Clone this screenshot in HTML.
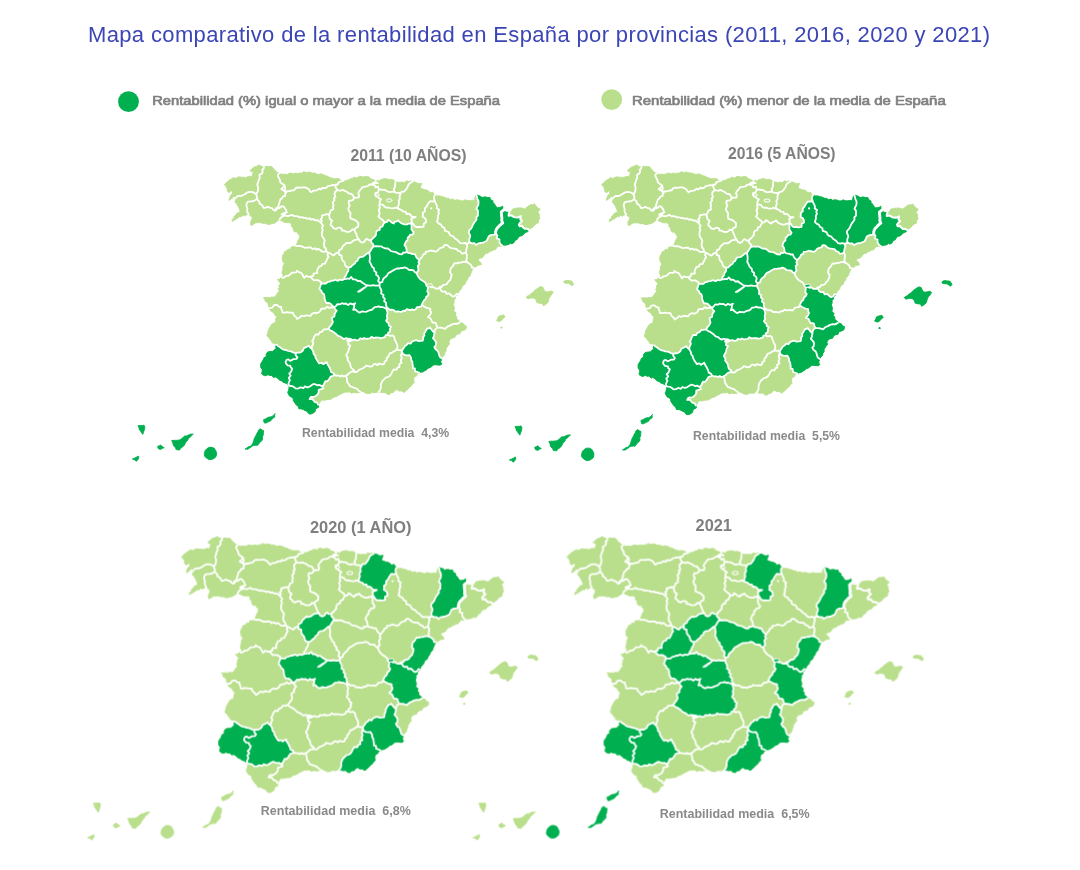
<!DOCTYPE html>
<html lang="es"><head><meta charset="utf-8"><title>Mapa comparativo de la rentabilidad en España por provincias</title><style>
html,body{margin:0;padding:0;background:#fff}
body{width:1080px;height:870px;position:relative;overflow:hidden}
svg{position:absolute;left:0;top:0;font-family:"Liberation Sans",sans-serif}
</style></head><body>
<svg width="1080" height="870" viewBox="0 0 1080 870">
<defs>
<path id="pC" d="M236.1 197.8L234.0 196.0L233.1 197.3L231.1 199.0L229.0 200.3L229.6 197.4L230.5 195.4L232.4 193.7L232.4 191.2L231.1 190.8L229.9 192.3L228.4 192.3L227.2 190.8L227.3 188.9L226.2 186.7L224.4 184.6L226.0 183.0L228.2 181.0L230.0 179.8L231.9 178.8L233.0 177.5L235.4 178.5L237.9 177.2L239.6 176.7L241.4 177.2L243.8 177.2L245.5 177.7L247.7 176.8L249.9 176.3L251.9 177.0L252.1 175.3L252.7 174.0L253.4 171.7L251.9 171.8L250.0 170.7L252.2 168.5L254.4 166.9L256.7 166.3L259.0 164.9L261.1 166.2L262.4 166.7L264.1 166.6L263.7 168.6L262.2 169.8L262.8 171.8L261.8 173.6L259.4 174.9L259.8 177.3L259.3 179.2L258.6 180.1L258.2 182.3L257.3 184.2L258.0 186.9L258.2 188.5L257.7 191.7L257.0 192.7L256.2 194.4L254.7 193.1L252.0 191.9L250.4 191.9L248.6 192.0L246.6 192.9L244.3 194.5L241.8 195.8L239.8 195.9L237.7 196.0Z"/>
<path id="pLU" d="M264.1 166.6L267.1 166.3L269.2 166.6L271.8 166.6L273.4 168.3L273.9 169.6L276.0 170.9L277.1 172.7L279.9 172.9L278.2 174.2L277.8 175.7L278.8 177.9L280.1 180.2L280.2 182.0L282.2 183.8L284.4 185.1L283.5 187.2L281.3 189.2L282.9 190.0L284.6 191.2L286.6 192.2L285.2 193.7L285.2 195.9L282.8 196.6L281.9 198.4L280.4 199.3L279.8 201.3L279.3 202.8L278.7 204.9L278.4 206.8L275.9 208.5L275.5 210.7L273.6 210.2L272.3 208.3L269.8 207.8L268.0 206.7L266.2 207.4L263.9 208.1L262.8 206.5L261.9 204.9L259.4 203.5L259.5 202.1L258.4 200.6L256.8 199.0L257.0 197.0L256.2 194.4L257.0 192.7L257.7 191.7L258.2 188.5L258.0 186.9L257.3 184.2L258.2 182.3L258.6 180.1L259.3 179.2L259.8 177.3L259.4 174.9L261.8 173.6L262.8 171.8L262.2 169.8L263.7 168.6Z"/>
<path id="pPO" d="M236.1 197.8L237.7 196.0L239.8 195.9L241.8 195.8L244.3 194.5L246.6 192.9L248.6 192.0L250.4 191.9L252.0 191.9L254.7 193.1L256.2 194.4L257.0 197.0L256.8 199.0L254.9 200.4L252.5 201.4L250.2 201.4L247.6 201.9L246.6 203.8L246.4 204.9L246.8 207.0L247.3 209.0L247.1 210.7L247.6 212.5L248.8 214.5L246.7 214.6L245.0 216.1L242.9 215.0L241.8 216.7L239.7 216.5L237.6 218.3L235.9 219.2L233.7 220.4L232.1 221.5L232.2 219.2L233.9 218.7L234.1 216.3L235.9 215.0L237.0 213.0L240.0 212.2L239.7 209.8L238.6 207.2L237.7 205.6L236.4 203.4L234.7 201.8L235.9 199.9Z"/>
<path id="pOU" d="M256.8 199.0L258.4 200.6L259.5 202.1L259.4 203.5L261.9 204.9L262.8 206.5L263.9 208.1L266.2 207.4L268.0 206.7L269.8 207.8L272.3 208.3L273.6 210.2L275.5 210.7L277.1 208.9L278.0 207.8L279.8 208.0L281.4 206.3L283.3 206.3L284.5 207.8L285.8 209.5L286.8 212.3L285.1 213.2L284.0 215.9L282.1 216.8L280.5 218.0L279.5 219.7L277.6 220.9L276.5 221.7L274.3 223.2L271.8 223.7L269.6 224.4L267.5 224.3L264.8 223.2L263.5 223.7L261.7 222.9L259.4 222.6L257.8 222.8L255.8 222.7L254.6 223.5L252.6 224.9L250.9 225.4L250.5 221.8L251.4 220.6L252.1 218.4L252.5 216.9L250.6 216.0L248.8 214.5L247.6 212.5L247.1 210.7L247.3 209.0L246.8 207.0L246.4 204.9L246.6 203.8L247.6 201.9L250.2 201.4L252.5 201.4L254.9 200.4Z"/>
<path id="pO" d="M279.9 172.9L279.7 173.5L282.1 174.3L283.9 174.3L285.6 174.2L287.6 174.4L289.8 173.1L291.9 173.3L293.8 173.8L295.9 173.0L298.2 173.6L299.5 173.1L301.9 173.0L304.0 171.6L305.7 172.5L307.8 172.3L309.5 172.1L311.1 172.5L312.6 173.2L314.3 172.9L316.1 173.8L318.6 174.5L320.8 173.8L322.6 174.3L324.3 175.1L326.0 175.8L328.2 176.5L329.8 177.5L332.0 178.1L333.3 178.6L335.4 178.8L337.4 178.5L339.4 179.0L341.8 180.9L343.7 180.6L341.1 181.3L338.9 182.0L337.6 184.5L335.6 184.7L333.8 185.3L332.2 185.0L330.2 185.6L327.9 186.2L326.6 187.5L324.4 188.3L322.6 187.6L321.0 189.4L319.0 188.7L317.4 190.0L315.7 190.7L313.3 190.7L311.1 192.2L310.0 191.3L308.8 189.3L306.9 188.1L304.8 187.3L302.9 187.4L301.3 187.6L299.5 187.7L297.8 187.5L295.7 188.0L294.1 190.3L291.9 190.4L289.9 191.2L287.9 191.2L284.7 191.6L284.9 189.6L285.3 187.5L284.4 185.1L282.2 183.8L280.2 182.0L280.1 180.2L278.8 177.9L277.8 175.7L278.2 174.2Z"/>
<path id="pS" d="M343.7 180.6L346.0 180.7L348.5 179.8L350.2 178.9L352.3 178.4L353.9 177.1L356.3 177.9L357.8 177.4L359.4 176.2L361.8 176.5L363.3 177.1L365.1 176.6L367.3 176.4L369.3 177.1L370.6 178.8L373.2 179.5L374.1 180.2L375.8 181.2L374.6 183.2L372.5 184.8L373.8 183.6L375.7 182.8L377.9 183.1L375.9 183.2L373.3 182.5L371.7 184.3L369.7 184.5L367.8 186.2L365.3 186.7L362.7 187.1L361.7 188.2L360.0 190.3L358.7 192.0L358.3 193.3L359.2 195.3L358.8 197.4L356.3 197.6L354.1 197.9L353.1 195.6L351.5 193.9L349.0 193.5L347.7 192.4L345.8 191.2L344.5 190.9L342.5 189.8L341.1 190.7L338.5 190.3L336.9 189.5L335.6 187.2L335.6 184.7L337.6 184.5L338.9 182.0L341.1 181.3Z"/>
<path id="pBI" d="M375.8 181.2L377.6 180.2L379.0 181.2L380.9 179.6L382.8 179.1L385.4 178.5L387.3 179.0L389.0 179.6L391.5 179.4L393.0 179.7L394.5 180.8L395.4 182.1L395.2 184.8L395.0 186.9L393.7 189.5L394.6 191.7L391.6 191.8L389.4 192.2L387.5 191.5L385.1 189.9L382.9 189.9L381.0 189.3L378.8 190.0L378.1 186.5L375.7 187.4L374.6 185.2L372.5 184.8L374.6 183.2Z"/>
<path id="pSS" d="M395.4 182.1L397.8 182.0L399.8 182.4L402.0 182.1L404.5 182.5L406.9 180.8L409.4 181.6L411.1 180.8L412.5 181.7L410.5 182.7L408.7 184.2L407.8 186.5L406.7 188.5L405.2 190.3L404.0 191.6L401.7 191.7L400.8 193.3L399.0 192.9L397.8 192.8L395.6 192.6L394.6 191.7L393.7 189.5L395.0 186.9L395.2 184.8Z"/>
<path id="pVI" d="M378.8 190.0L381.0 189.3L382.9 189.9L385.1 189.9L387.5 191.5L389.4 192.2L391.6 191.8L394.6 191.7L395.6 192.6L397.8 192.8L399.0 192.9L400.8 193.3L399.5 196.0L399.9 198.7L398.6 200.7L399.1 203.7L398.2 206.0L397.9 208.5L395.9 207.5L394.3 208.2L391.7 208.4L390.4 208.2L388.2 207.5L386.3 207.6L384.5 206.8L383.4 205.1L381.3 204.5L379.6 203.8L379.6 201.7L381.1 199.3L379.4 198.6L378.0 197.0L376.2 196.4L375.3 195.0L375.3 193.0L378.0 192.3Z"/>
<path id="pNA" d="M412.5 181.7L414.2 182.0L416.0 182.3L417.8 183.5L419.3 183.7L421.9 183.2L420.9 185.5L420.2 188.0L422.2 188.8L424.6 189.7L426.5 189.9L428.9 191.3L430.3 192.7L432.7 192.0L433.5 194.1L435.4 194.6L434.2 196.3L434.0 198.7L434.6 200.4L432.8 201.6L430.2 201.2L428.7 202.8L427.4 205.0L426.6 206.6L424.8 208.4L424.9 211.2L422.7 212.9L423.0 214.5L422.6 216.8L424.9 218.0L426.0 220.0L426.2 222.2L423.8 223.5L423.7 226.6L421.2 227.1L418.8 226.8L416.1 227.0L414.2 225.7L413.1 223.6L410.6 223.3L412.0 221.9L411.3 218.8L412.9 218.1L415.7 217.0L413.2 216.8L411.6 216.4L410.3 214.6L408.5 213.6L406.5 214.0L405.6 211.7L402.8 211.5L401.8 210.1L399.8 209.3L397.9 208.5L398.2 206.0L399.1 203.7L398.6 200.7L399.9 198.7L399.5 196.0L400.8 193.3L401.7 191.7L404.0 191.6L405.2 190.3L406.7 188.5L407.8 186.5L408.7 184.2L410.5 182.7Z"/>
<path id="pLO" d="M379.6 203.8L381.3 204.5L383.4 205.1L384.5 206.8L386.3 207.6L388.2 207.5L390.4 208.2L391.7 208.4L394.3 208.2L395.9 207.5L397.9 208.5L399.8 209.3L401.8 210.1L402.8 211.5L405.6 211.7L406.5 214.0L408.5 213.6L410.3 214.6L411.6 216.4L413.2 216.8L415.7 217.0L412.9 218.1L411.3 218.8L412.0 221.9L410.6 223.3L408.2 223.7L407.0 224.4L404.5 224.3L403.2 224.0L401.1 223.1L399.8 222.1L398.2 220.3L396.6 221.4L394.5 221.9L393.7 223.5L391.8 222.7L389.9 220.9L388.1 219.9L387.1 221.9L384.6 222.5L383.3 220.5L381.8 219.5L380.5 218.4L378.4 216.5L379.6 213.6L379.4 211.9L378.7 209.9L380.0 208.0L379.3 206.0Z"/>
<path id="pLE" d="M284.4 185.1L285.3 187.5L284.9 189.6L284.7 191.6L287.9 191.2L289.9 191.2L291.9 190.4L294.1 190.3L295.7 188.0L297.8 187.5L299.5 187.7L301.3 187.6L302.9 187.4L304.8 187.3L306.9 188.1L308.8 189.3L310.0 191.3L311.1 192.2L313.3 190.7L315.7 190.7L317.4 190.0L319.0 188.7L321.0 189.4L322.6 187.6L324.4 188.3L326.6 187.5L327.9 186.2L330.2 185.6L332.2 185.0L333.8 185.3L335.6 184.7L335.6 187.2L336.9 189.5L336.2 191.3L334.8 192.1L334.6 194.5L335.5 196.9L333.9 198.3L334.6 200.1L332.7 202.8L333.5 204.9L332.9 206.9L333.4 209.2L330.7 210.5L330.1 212.8L328.6 214.6L326.7 214.1L324.4 214.8L322.1 215.3L322.1 217.8L320.5 219.1L321.8 220.8L320.7 222.6L319.0 221.2L317.2 220.1L315.4 220.4L313.6 219.2L311.1 219.5L309.7 218.3L307.3 218.8L305.6 217.8L303.7 217.9L301.8 217.1L299.5 217.4L298.1 216.4L296.1 216.1L293.8 216.1L291.8 214.7L290.3 215.4L288.0 216.1L285.6 215.7L283.5 215.2L281.6 214.5L282.9 213.6L284.7 212.9L286.8 212.3L285.8 209.5L284.5 207.8L283.3 206.3L281.4 206.3L279.8 208.0L278.0 207.8L277.1 208.9L275.5 210.7L275.9 208.5L278.4 206.8L278.7 204.9L279.3 202.8L279.8 201.3L280.4 199.3L281.9 198.4L282.8 196.6L285.2 195.9L285.2 193.7L286.6 192.2L284.6 191.2L282.9 190.0L281.3 189.2L283.5 187.2Z"/>
<path id="pP" d="M336.9 189.5L338.5 190.3L341.1 190.7L342.5 189.8L344.5 190.9L345.8 191.2L347.7 192.4L349.0 193.5L351.5 193.9L353.1 195.6L354.1 197.9L353.1 199.7L351.4 200.6L349.0 200.6L348.6 203.4L349.8 205.3L348.9 207.0L348.2 209.0L349.3 211.7L350.6 213.1L350.2 216.0L350.5 218.4L353.3 219.4L355.3 220.2L357.2 221.9L358.4 223.1L358.3 225.1L358.0 226.9L355.6 227.9L354.5 229.8L352.3 229.4L351.0 230.8L349.2 231.8L347.8 231.8L345.7 231.6L343.9 230.4L341.7 230.5L341.5 228.3L339.2 227.5L337.1 228.1L336.0 229.0L333.5 228.2L332.6 226.6L330.7 225.3L331.0 222.5L332.2 220.7L330.2 219.3L329.3 217.5L329.5 216.0L328.6 214.6L330.1 212.8L330.7 210.5L333.4 209.2L332.9 206.9L333.5 204.9L332.7 202.8L334.6 200.1L333.9 198.3L335.5 196.9L334.6 194.5L334.8 192.1L336.2 191.3Z"/>
<path id="pBU" d="M354.1 197.9L356.3 197.6L358.8 197.4L359.2 195.3L358.3 193.3L358.7 192.0L360.0 190.3L361.7 188.2L362.7 187.1L365.3 186.7L367.8 186.2L369.7 184.5L371.7 184.3L373.3 182.5L375.9 183.2L377.9 183.1L375.7 182.8L373.8 183.6L372.5 184.8L374.6 185.2L375.7 187.4L378.1 186.5L378.8 190.0L378.0 192.3L375.3 193.0L375.3 195.0L376.2 196.4L378.0 197.0L379.4 198.6L381.1 199.3L379.6 201.7L379.6 203.8L379.3 206.0L380.0 208.0L378.7 209.9L379.4 211.9L379.6 213.6L378.4 216.5L380.5 218.4L381.8 219.5L383.3 220.5L384.6 222.5L383.1 224.5L382.5 226.4L380.0 227.3L379.7 229.8L377.7 230.4L376.3 231.7L375.9 235.1L374.4 236.8L373.0 238.2L371.3 240.0L368.9 240.3L366.6 238.8L365.2 240.2L364.5 241.6L362.2 242.7L360.3 241.8L359.0 239.5L357.9 238.0L357.0 236.1L356.2 233.7L355.3 232.1L354.5 229.8L355.6 227.9L358.0 226.9L358.3 225.1L358.4 223.1L357.2 221.9L355.3 220.2L353.3 219.4L350.5 218.4L350.2 216.0L350.6 213.1L349.3 211.7L348.2 209.0L348.9 207.0L349.8 205.3L348.6 203.4L349.0 200.6L351.4 200.6L353.1 199.7Z"/>
<path id="pZA" d="M286.8 212.3L284.7 212.9L282.9 213.6L281.6 214.5L283.5 215.2L285.6 215.7L288.0 216.1L290.3 215.4L291.8 214.7L293.8 216.1L296.1 216.1L298.1 216.4L299.5 217.4L301.8 217.1L303.7 217.9L305.6 217.8L307.3 218.8L309.7 218.3L311.1 219.5L313.6 219.2L315.4 220.4L317.2 220.1L319.0 221.2L320.7 222.6L322.5 224.8L323.1 225.8L321.9 227.5L322.8 230.0L321.9 231.8L322.0 233.3L321.9 235.3L322.8 237.4L323.9 238.6L324.7 240.5L324.1 242.7L324.1 245.0L324.3 247.0L325.8 248.5L326.4 251.1L328.1 252.6L326.7 251.6L324.6 251.7L322.3 251.7L320.4 250.2L318.6 248.9L316.7 249.7L315.1 248.3L312.5 249.2L311.1 247.5L308.7 247.4L306.4 247.7L304.7 247.8L302.3 246.6L300.3 245.8L298.1 246.0L295.8 245.8L296.9 243.6L297.6 241.6L298.3 239.9L299.2 238.2L299.8 237.0L299.4 235.1L298.0 233.9L297.1 231.8L294.7 232.0L293.4 230.4L293.2 228.0L291.4 226.2L291.5 223.7L289.1 222.6L286.6 222.7L284.7 222.4L282.1 221.1L280.8 220.5L279.5 219.7L280.5 218.0L282.1 216.8L284.0 215.9L285.1 213.2Z"/>
<path id="pVA" d="M320.7 222.6L321.8 220.8L320.5 219.1L322.1 217.8L322.1 215.3L324.4 214.8L326.7 214.1L328.6 214.6L329.5 216.0L329.3 217.5L330.2 219.3L332.2 220.7L331.0 222.5L330.7 225.3L332.6 226.6L333.5 228.2L336.0 229.0L337.1 228.1L339.2 227.5L341.5 228.3L341.7 230.5L343.9 230.4L345.7 231.6L347.8 231.8L349.2 231.8L351.0 230.8L352.3 229.4L354.5 229.8L355.3 232.1L356.2 233.7L357.0 236.1L357.9 238.0L359.0 239.5L356.7 239.6L354.4 240.1L353.2 240.8L350.9 242.7L349.3 243.0L346.6 242.8L345.2 244.1L344.2 245.0L342.6 246.5L341.7 248.9L339.1 250.1L338.9 252.3L336.1 253.2L333.7 255.4L332.2 254.7L330.2 253.4L328.1 252.6L326.4 251.1L325.8 248.5L324.3 247.0L324.1 245.0L324.1 242.7L324.7 240.5L323.9 238.6L322.8 237.4L321.9 235.3L322.0 233.3L321.9 231.8L322.8 230.0L321.9 227.5L323.1 225.8L322.5 224.8Z"/>
<path id="pSA" d="M295.8 245.8L298.1 246.0L300.3 245.8L302.3 246.6L304.7 247.8L306.4 247.7L308.7 247.4L311.1 247.5L312.5 249.2L315.1 248.3L316.7 249.7L318.6 248.9L320.4 250.2L322.3 251.7L324.6 251.7L326.7 251.6L328.1 252.6L327.4 254.9L328.5 257.0L327.4 258.4L326.5 260.8L325.8 261.6L325.0 263.6L322.4 263.8L321.3 266.2L319.1 266.5L318.0 268.4L317.1 270.5L317.2 273.2L313.7 273.4L313.1 276.0L310.6 276.6L308.5 276.8L306.2 275.9L304.4 278.0L302.6 275.0L301.3 272.9L298.8 272.1L297.0 270.6L296.1 272.4L293.5 272.6L291.9 272.6L290.3 274.4L288.4 275.8L286.0 275.9L284.6 277.3L282.5 277.8L283.2 275.4L282.0 272.7L282.4 270.3L282.9 269.1L282.9 266.7L283.7 264.8L284.5 263.9L282.9 261.6L282.3 259.4L282.3 256.7L282.9 255.0L284.0 253.4L284.7 251.4L286.7 251.1L288.0 249.0L290.1 249.4L291.4 246.8L293.9 246.7Z"/>
<path id="pAV" d="M328.1 252.6L330.2 253.4L332.2 254.7L333.7 255.4L336.1 253.2L338.9 252.3L339.1 254.8L341.5 255.4L341.7 257.8L342.3 260.1L344.0 261.7L344.7 262.9L345.0 264.9L346.1 266.5L348.2 267.6L348.6 269.6L348.1 271.2L346.8 273.0L346.2 275.1L344.9 276.7L344.1 279.1L342.1 280.1L339.9 279.6L338.0 280.8L335.2 279.7L333.3 280.7L331.4 280.7L329.6 281.6L327.7 281.8L325.8 283.5L323.5 283.5L321.2 283.5L321.0 281.9L319.4 281.1L317.9 280.1L316.0 280.1L314.0 280.3L311.8 278.3L310.6 276.6L313.1 276.0L313.7 273.4L317.2 273.2L317.1 270.5L318.0 268.4L319.1 266.5L321.3 266.2L322.4 263.8L325.0 263.6L325.8 261.6L326.5 260.8L327.4 258.4L328.5 257.0L327.4 254.9Z"/>
<path id="pSG" d="M338.9 252.3L339.1 250.1L341.7 248.9L342.6 246.5L344.2 245.0L345.2 244.1L346.6 242.8L349.3 243.0L350.9 242.7L353.2 240.8L354.4 240.1L356.7 239.6L359.0 239.5L360.3 241.8L362.2 242.7L364.5 241.6L365.2 240.2L366.6 238.8L368.9 240.3L371.3 240.0L371.2 242.3L373.3 244.3L373.3 246.7L371.7 248.6L370.8 250.4L369.2 252.5L367.6 253.0L365.7 254.6L364.6 255.4L363.2 256.6L360.1 257.1L358.7 257.9L357.5 260.6L355.6 261.7L355.0 263.5L353.5 264.3L351.8 265.9L350.7 267.0L348.2 267.6L346.1 266.5L345.0 264.9L344.7 262.9L344.0 261.7L342.3 260.1L341.7 257.8L341.5 255.4L339.1 254.8Z"/>
<path id="pSO" d="M384.6 222.5L387.1 221.9L388.1 219.9L389.9 220.9L391.8 222.7L393.7 223.5L394.5 221.9L396.6 221.4L398.2 220.3L399.8 222.1L401.1 223.1L403.2 224.0L404.5 224.3L407.0 224.4L408.2 223.7L410.6 223.3L411.5 224.8L411.6 227.4L411.5 229.4L412.5 230.8L413.7 232.5L412.7 234.5L410.2 234.7L409.1 236.5L407.7 237.7L407.6 240.3L406.2 241.2L405.2 243.4L404.5 245.2L406.0 247.3L406.5 249.3L406.7 251.7L405.0 252.8L403.3 252.3L402.1 254.4L399.7 254.2L397.7 253.1L395.1 251.8L393.2 251.7L390.8 251.0L389.7 249.8L387.7 248.5L385.2 248.3L383.0 247.5L381.1 246.3L378.5 246.4L375.9 246.2L373.3 246.7L373.3 244.3L371.2 242.3L371.3 240.0L373.0 238.2L374.4 236.8L375.9 235.1L376.3 231.7L377.7 230.4L379.7 229.8L380.0 227.3L382.5 226.4L383.1 224.5Z"/>
<path id="pM" d="M369.2 252.5L369.6 254.6L369.9 256.8L369.9 259.0L369.5 261.6L370.4 262.9L371.5 265.5L372.3 267.0L374.0 268.3L374.4 271.1L376.4 272.5L376.1 274.8L378.2 276.3L379.0 278.2L378.1 281.1L379.7 282.7L379.5 285.0L377.6 285.6L375.2 285.6L373.2 285.1L371.4 285.6L369.5 285.6L367.9 285.3L365.6 284.9L363.8 283.5L362.4 282.8L360.2 280.9L357.7 281.2L356.3 279.8L354.5 279.3L353.0 279.4L351.2 277.0L349.4 278.9L347.8 278.5L346.0 278.9L344.1 279.1L344.9 276.7L346.2 275.1L346.8 273.0L348.1 271.2L348.6 269.6L348.2 267.6L350.7 267.0L351.8 265.9L353.5 264.3L355.0 263.5L355.6 261.7L357.5 260.6L358.7 257.9L360.1 257.1L363.2 256.6L364.6 255.4L365.7 254.6L367.6 253.0Z"/>
<path id="pGU" d="M373.3 246.7L375.9 246.2L378.5 246.4L381.1 246.3L383.0 247.5L385.2 248.3L387.7 248.5L389.7 249.8L390.8 251.0L393.2 251.7L395.1 251.8L397.7 253.1L399.7 254.2L402.1 254.4L403.3 252.3L405.0 252.8L406.7 251.7L408.3 253.0L411.1 253.4L412.7 254.2L415.0 254.2L416.0 256.7L417.4 258.5L419.5 260.0L418.4 262.1L419.5 264.0L417.8 265.9L418.2 268.4L418.6 270.4L417.3 271.7L416.7 273.3L414.7 271.9L413.6 270.3L411.4 270.0L408.9 269.9L407.2 268.3L404.7 267.3L402.8 268.0L400.6 268.2L399.0 268.5L397.0 268.5L394.8 269.5L392.8 270.6L391.3 271.6L389.3 272.6L388.2 273.4L387.1 275.3L386.1 276.6L384.0 278.1L382.9 279.6L382.3 282.0L380.1 282.6L379.5 285.0L379.7 282.7L378.1 281.1L379.0 278.2L378.2 276.3L376.1 274.8L376.4 272.5L374.4 271.1L374.0 268.3L372.3 267.0L371.5 265.5L370.4 262.9L369.5 261.6L369.9 259.0L369.9 256.8L369.6 254.6L369.2 252.5L370.8 250.4L371.7 248.6Z"/>
<path id="pZ" d="M410.6 223.3L413.1 223.6L414.2 225.7L416.1 227.0L418.8 226.8L421.2 227.1L423.7 226.6L423.8 223.5L426.2 222.2L426.0 220.0L424.9 218.0L422.6 216.8L423.0 214.5L422.7 212.9L424.9 211.2L424.8 208.4L426.6 206.6L427.4 205.0L428.7 202.8L430.2 201.2L432.8 201.6L434.6 200.4L435.1 202.3L436.2 204.1L437.0 206.3L436.8 208.3L439.2 209.8L438.3 211.6L439.0 213.6L437.9 215.7L438.0 218.0L437.5 220.0L437.0 221.9L438.7 223.4L441.0 224.6L442.0 226.6L444.5 228.0L444.7 230.6L447.2 231.5L448.7 232.1L449.7 234.6L451.0 235.6L453.5 236.5L455.0 238.6L457.0 239.8L458.2 240.7L459.9 242.8L462.3 243.5L464.1 243.0L466.4 243.5L468.3 243.0L466.7 244.7L467.3 246.3L466.6 248.3L466.3 250.5L465.8 252.5L463.4 253.4L462.1 253.7L460.5 251.7L457.8 250.6L456.6 249.0L454.1 248.6L451.4 248.2L449.9 247.6L447.5 245.3L445.7 244.9L444.4 245.1L443.6 247.1L441.4 247.6L439.2 248.6L437.5 250.7L435.7 251.6L432.9 250.9L430.8 250.5L428.5 251.4L425.8 251.6L425.5 253.7L423.3 254.3L422.4 256.5L420.7 258.3L419.5 260.0L417.4 258.5L416.0 256.7L415.0 254.2L412.7 254.2L411.1 253.4L408.3 253.0L406.7 251.7L406.5 249.3L406.0 247.3L404.5 245.2L405.2 243.4L406.2 241.2L407.6 240.3L407.7 237.7L409.1 236.5L410.2 234.7L412.7 234.5L413.7 232.5L412.5 230.8L411.5 229.4L411.6 227.4L411.5 224.8Z"/>
<path id="pHU" d="M435.4 194.6L437.0 196.0L439.7 195.8L441.9 196.6L444.5 197.2L446.5 198.2L448.6 198.3L450.8 199.7L452.9 198.9L454.6 200.2L457.3 199.7L459.2 200.1L461.2 200.8L462.9 200.9L465.2 199.8L466.8 200.4L468.8 200.8L471.4 200.4L473.3 200.3L474.8 200.1L474.7 198.3L475.4 196.3L476.1 194.9L477.1 197.2L477.3 199.0L478.4 200.8L478.5 203.2L478.2 205.3L477.4 206.4L476.4 208.8L477.8 210.3L478.1 212.2L477.8 214.2L478.0 215.5L476.2 217.3L476.5 219.4L475.1 221.5L474.0 222.9L472.9 224.7L471.9 227.3L470.6 229.1L469.2 230.4L468.8 232.9L469.7 234.2L470.3 236.0L469.8 237.6L469.1 239.5L469.4 241.7L468.3 243.0L466.4 243.5L464.1 243.0L462.3 243.5L459.9 242.8L458.2 240.7L457.0 239.8L455.0 238.6L453.5 236.5L451.0 235.6L449.7 234.6L448.7 232.1L447.2 231.5L444.7 230.6L444.5 228.0L442.0 226.6L441.0 224.6L438.7 223.4L437.0 221.9L437.5 220.0L438.0 218.0L437.9 215.7L439.0 213.6L438.3 211.6L439.2 209.8L436.8 208.3L437.0 206.3L436.2 204.1L435.1 202.3L434.6 200.4L434.0 198.7L434.2 196.3Z"/>
<path id="pL" d="M476.1 194.9L478.1 195.5L480.3 196.2L482.1 197.5L484.2 197.0L485.7 197.0L487.9 197.6L489.7 197.3L490.7 199.8L492.9 200.9L492.9 202.4L494.2 203.8L495.4 205.4L496.2 207.0L497.5 207.7L499.4 207.6L501.3 207.1L502.6 206.1L502.9 208.7L503.8 209.9L501.3 211.9L501.5 214.1L501.6 216.2L501.9 218.0L501.7 220.5L502.7 223.0L500.3 224.8L498.5 226.8L497.3 227.9L496.3 229.5L495.6 231.7L495.7 233.7L493.9 234.8L491.4 234.9L488.7 236.4L487.6 239.0L486.6 241.0L484.3 242.0L482.7 242.8L480.1 243.0L477.9 243.7L476.0 245.0L474.3 243.1L471.9 243.4L470.6 242.7L468.3 243.0L469.4 241.7L469.1 239.5L469.8 237.6L470.3 236.0L469.7 234.2L468.8 232.9L469.2 230.4L470.6 229.1L471.9 227.3L472.9 224.7L474.0 222.9L475.1 221.5L476.5 219.4L476.2 217.3L478.0 215.5L477.8 214.2L478.1 212.2L477.8 210.3L476.4 208.8L477.4 206.4L478.2 205.3L478.5 203.2L478.4 200.8L477.3 199.0L477.1 197.2Z"/>
<path id="pGI" d="M509.4 212.2L511.4 211.4L512.6 209.0L514.4 208.6L516.7 208.1L518.4 208.0L520.3 207.8L522.6 208.3L524.6 209.0L526.2 207.7L527.6 206.5L529.7 205.2L530.7 204.6L532.8 204.9L534.5 203.8L536.5 206.4L537.9 207.9L540.2 209.2L538.5 211.0L537.9 212.4L539.3 214.2L539.2 216.3L539.9 218.2L538.4 220.6L538.5 222.7L536.3 223.7L534.2 225.4L532.9 227.2L531.2 228.0L529.3 230.0L527.0 228.7L524.8 228.7L523.2 227.5L521.7 225.7L519.6 226.1L518.9 224.5L520.1 222.8L522.1 220.9L520.4 219.6L520.8 216.2L517.8 217.5L515.0 217.3L513.6 216.8L511.5 215.3L508.7 215.8L508.7 214.4Z"/>
<path id="pB" d="M503.8 209.9L505.3 211.9L506.9 212.3L508.3 212.3L509.4 212.2L508.7 214.4L508.7 215.8L511.5 215.3L513.6 216.8L515.0 217.3L517.8 217.5L520.8 216.2L520.4 219.6L522.1 220.9L520.1 222.8L518.9 224.5L519.6 226.1L521.7 225.7L523.2 227.5L524.8 228.7L527.0 228.7L529.3 230.0L527.5 231.7L525.8 232.2L524.3 233.4L522.4 235.5L519.9 236.1L518.1 237.4L517.4 239.2L514.7 240.6L514.1 242.4L511.9 243.8L510.3 243.3L508.6 244.4L506.1 245.0L504.6 245.1L502.8 245.9L501.1 244.7L500.1 243.5L499.4 241.8L499.4 239.3L496.7 238.3L497.4 235.6L495.7 233.7L495.6 231.7L496.3 229.5L497.3 227.9L498.5 226.8L500.3 224.8L502.7 223.0L501.7 220.5L501.9 218.0L501.6 216.2L501.5 214.1L501.3 211.9Z"/>
<path id="pT" d="M468.3 243.0L470.6 242.7L471.9 243.4L474.3 243.1L476.0 245.0L477.9 243.7L480.1 243.0L482.7 242.8L484.3 242.0L486.6 241.0L487.6 239.0L488.7 236.4L491.4 234.9L493.9 234.8L495.7 233.7L497.4 235.6L496.7 238.3L499.4 239.3L499.4 241.8L500.1 243.5L501.1 244.7L502.8 245.9L499.8 246.2L498.2 246.3L496.8 247.7L495.4 249.7L493.0 249.9L492.0 251.0L490.0 251.2L488.3 253.1L486.5 253.2L484.5 254.6L483.5 256.3L482.3 257.7L479.7 258.3L478.0 260.1L480.3 262.0L481.6 264.5L479.9 264.9L477.6 265.2L476.1 266.9L474.2 267.8L471.7 267.5L471.5 265.5L469.6 263.7L467.5 262.5L466.2 260.2L466.7 258.4L466.8 256.3L466.9 254.5L465.8 252.5L466.3 250.5L466.6 248.3L467.3 246.3L466.7 244.7Z"/>
<path id="pTE" d="M419.5 260.0L420.7 258.3L422.4 256.5L423.3 254.3L425.5 253.7L425.8 251.6L428.5 251.4L430.8 250.5L432.9 250.9L435.7 251.6L437.5 250.7L439.2 248.6L441.4 247.6L443.6 247.1L444.4 245.1L445.7 244.9L447.5 245.3L449.9 247.6L451.4 248.2L454.1 248.6L456.6 249.0L457.8 250.6L460.5 251.7L462.1 253.7L463.4 253.4L465.8 252.5L466.9 254.5L466.8 256.3L466.7 258.4L466.2 260.2L467.5 262.5L465.3 261.9L462.9 261.8L461.0 262.6L458.6 262.6L456.9 263.4L454.6 263.2L453.6 264.8L452.7 266.3L450.7 268.3L450.4 270.0L450.0 272.5L451.7 274.5L451.3 276.6L450.7 278.6L450.0 280.3L448.3 281.6L447.1 283.8L445.5 284.6L442.8 285.1L441.7 287.0L440.0 286.7L438.3 288.3L435.7 288.6L433.1 286.9L431.6 287.4L429.7 286.1L428.0 287.0L426.5 285.7L425.5 282.9L423.9 281.6L421.4 280.1L420.2 279.1L418.8 277.5L417.7 275.6L416.7 273.3L417.3 271.7L418.6 270.4L418.2 268.4L417.8 265.9L419.5 264.0L418.4 262.1Z"/>
<path id="pCS" d="M467.5 262.5L469.6 263.7L471.5 265.5L471.7 267.5L474.2 267.8L472.4 269.5L471.6 271.7L470.8 273.3L470.5 275.2L468.7 277.0L467.8 278.5L467.4 280.1L465.9 281.5L465.3 283.8L463.5 285.2L462.2 286.3L461.8 288.3L460.3 290.0L458.8 291.8L458.3 294.2L456.5 293.8L455.2 295.9L453.2 296.8L451.3 295.5L449.2 293.4L446.6 293.9L445.5 291.6L442.6 291.7L441.3 290.8L440.3 288.5L438.3 288.3L440.0 286.7L441.7 287.0L442.8 285.1L445.5 284.6L447.1 283.8L448.3 281.6L450.0 280.3L450.7 278.6L451.3 276.6L451.7 274.5L450.0 272.5L450.4 270.0L450.7 268.3L452.7 266.3L453.6 264.8L454.6 263.2L456.9 263.4L458.6 262.6L461.0 262.6L462.9 261.8L465.3 261.9Z"/>
<path id="pV" d="M438.3 288.3L440.3 288.5L441.3 290.8L442.6 291.7L445.5 291.6L446.6 293.9L449.2 293.4L451.3 295.5L453.2 296.8L455.2 295.9L456.5 293.8L458.3 294.2L456.5 295.5L455.5 296.5L455.4 298.5L454.0 300.2L454.1 302.5L453.4 304.4L454.2 307.0L454.4 308.6L453.7 310.8L456.1 313.0L455.3 315.0L456.8 316.7L456.7 318.6L458.2 320.1L459.8 321.4L459.8 322.4L457.1 323.9L454.7 323.7L452.1 324.4L450.4 325.4L448.6 326.1L446.6 327.3L445.1 328.9L442.1 327.9L440.4 327.7L437.6 327.5L436.4 325.5L436.1 323.3L434.9 322.7L432.6 322.7L431.4 320.3L430.7 318.5L428.0 317.2L429.4 315.7L430.3 314.5L431.1 312.3L430.2 310.8L430.2 308.6L427.5 308.2L425.3 307.1L423.7 306.3L421.7 304.8L422.5 303.1L423.9 300.6L425.3 299.6L426.3 296.7L427.7 295.9L428.8 293.7L427.3 291.5L427.7 289.4L428.0 287.0L429.7 286.1L431.6 287.4L433.1 286.9L435.7 288.6Z"/>
<path id="pA" d="M437.6 327.5L440.4 327.7L442.1 327.9L445.1 328.9L446.6 327.3L448.6 326.1L450.4 325.4L452.1 324.4L454.7 323.7L457.1 323.9L459.8 322.4L461.5 322.8L463.2 323.3L464.7 325.5L466.5 326.2L466.2 328.2L465.4 329.7L463.4 330.4L460.9 331.3L460.0 333.8L457.9 334.1L455.6 335.3L454.7 337.6L451.8 338.3L449.8 339.8L448.9 341.8L449.6 344.2L448.2 345.2L447.2 347.1L446.1 348.7L446.1 351.1L444.9 352.6L444.6 354.9L442.7 356.4L441.8 358.3L439.9 357.0L439.2 355.2L438.6 352.9L437.8 351.0L435.6 349.3L434.4 347.0L435.8 345.6L436.1 342.3L434.6 340.0L432.9 338.1L434.0 336.3L434.1 334.7L434.6 332.8L434.6 330.8L435.7 328.9Z"/>
<path id="pMU" d="M434.6 332.8L434.1 334.7L434.0 336.3L432.9 338.1L434.6 340.0L436.1 342.3L435.8 345.6L434.4 347.0L435.6 349.3L437.8 351.0L438.6 352.9L439.2 355.2L439.9 357.0L441.8 358.3L441.5 359.8L440.7 361.4L441.1 362.8L441.9 363.9L440.3 365.1L438.1 365.0L435.5 364.7L433.3 365.0L432.1 366.1L430.3 367.5L427.8 368.2L427.0 369.5L424.9 370.6L423.2 371.8L421.4 372.1L419.4 372.9L416.9 371.9L415.1 371.4L414.8 368.4L412.8 368.1L412.9 366.2L412.5 363.7L412.3 361.8L411.2 360.1L411.1 357.9L409.5 355.1L407.0 355.3L405.2 355.1L402.9 354.0L401.8 351.1L402.9 349.0L404.0 347.6L405.0 345.9L406.6 345.0L408.2 343.2L410.6 343.7L412.2 341.5L413.7 340.8L416.1 340.1L418.8 341.1L420.6 340.9L422.8 340.6L423.3 338.3L422.9 337.6L424.4 335.5L424.1 333.6L425.2 332.0L426.0 330.4L427.2 328.5L428.9 328.3L429.9 327.5L431.8 330.0L432.9 331.4Z"/>
<path id="pAB" d="M386.3 308.7L388.5 308.5L389.3 309.8L391.5 309.6L393.8 310.1L395.4 311.8L397.1 311.4L399.2 311.7L401.3 312.1L403.2 310.7L404.9 311.0L406.8 309.2L409.0 309.9L410.2 310.0L412.8 309.5L414.0 310.2L415.7 309.3L417.0 307.2L418.9 307.0L421.4 306.4L421.7 304.8L423.7 306.3L425.3 307.1L427.5 308.2L430.2 308.6L430.2 310.8L431.1 312.3L430.3 314.5L429.4 315.7L428.0 317.2L430.7 318.5L431.4 320.3L432.6 322.7L434.9 322.7L436.1 323.3L436.4 325.5L437.6 327.5L435.7 328.9L434.6 330.8L434.6 332.8L432.9 331.4L431.8 330.0L429.9 327.5L428.9 328.3L427.2 328.5L426.0 330.4L425.2 332.0L424.1 333.6L424.4 335.5L422.9 337.6L423.3 338.3L422.8 340.6L420.6 340.9L418.8 341.1L416.1 340.1L413.7 340.8L412.2 341.5L410.6 343.7L408.2 343.2L406.6 345.0L405.0 345.9L404.0 347.6L402.9 349.0L401.8 351.1L400.4 350.1L398.4 350.2L396.5 349.7L397.5 347.4L397.4 345.2L396.6 343.3L395.5 341.1L394.7 339.0L394.0 336.4L392.3 335.3L389.5 335.8L387.9 334.9L388.0 333.0L389.7 331.7L390.4 330.1L389.9 329.1L391.0 326.8L388.9 325.4L388.6 323.1L387.0 322.1L386.2 320.5L387.4 318.4L386.9 316.2L387.2 314.4L387.6 312.5L386.8 310.2Z"/>
<path id="pCU" d="M379.5 285.0L380.1 282.6L382.3 282.0L382.9 279.6L384.0 278.1L386.1 276.6L387.1 275.3L388.2 273.4L389.3 272.6L391.3 271.6L392.8 270.6L394.8 269.5L397.0 268.5L399.0 268.5L400.6 268.2L402.8 268.0L404.7 267.3L407.2 268.3L408.9 269.9L411.4 270.0L413.6 270.3L414.7 271.9L416.7 273.3L417.7 275.6L418.8 277.5L420.2 279.1L421.4 280.1L423.9 281.6L425.5 282.9L426.5 285.7L428.0 287.0L427.7 289.4L427.3 291.5L428.8 293.7L427.7 295.9L426.3 296.7L425.3 299.6L423.9 300.6L422.5 303.1L421.7 304.8L421.4 306.4L418.9 307.0L417.0 307.2L415.7 309.3L414.0 310.2L412.8 309.5L410.2 310.0L409.0 309.9L406.8 309.2L404.9 311.0L403.2 310.7L401.3 312.1L399.2 311.7L397.1 311.4L395.4 311.8L393.8 310.1L391.5 309.6L389.3 309.8L388.5 308.5L386.3 308.7L386.8 307.0L385.9 305.1L386.2 302.9L384.1 301.2L384.9 298.8L383.1 297.0L383.5 294.9L381.1 293.4L381.5 290.9L380.7 288.7L379.7 287.2Z"/>
<path id="pTO" d="M344.1 279.1L346.0 278.9L347.8 278.5L349.4 278.9L351.2 277.0L353.0 279.4L354.5 279.3L356.3 279.8L357.7 281.2L360.2 280.9L362.4 282.8L363.8 283.5L365.6 284.9L367.9 285.3L369.5 285.6L371.4 285.6L373.2 285.1L375.2 285.6L377.6 285.6L379.5 285.0L379.7 287.2L380.7 288.7L381.5 290.9L381.1 293.4L383.5 294.9L383.1 297.0L384.9 298.8L384.1 301.2L386.2 302.9L385.9 305.1L386.8 307.0L386.3 308.7L384.2 307.7L382.3 307.0L380.3 307.2L378.9 306.3L376.8 306.9L374.7 307.1L373.2 308.5L372.1 309.6L370.3 310.2L367.8 311.0L366.4 311.8L363.8 311.6L361.9 311.4L360.0 312.6L358.5 312.1L356.8 310.8L355.3 309.3L353.2 309.8L354.2 306.9L354.2 304.7L355.2 303.3L352.4 304.4L350.2 303.4L348.2 305.0L345.8 303.5L343.6 303.8L342.1 303.2L340.1 304.3L337.5 304.1L335.9 306.1L334.4 307.3L332.3 305.8L330.7 303.8L329.0 303.0L326.4 303.0L325.6 301.3L324.6 299.0L324.5 296.4L323.9 294.1L321.9 292.6L321.5 291.1L319.4 288.9L319.9 287.3L320.6 285.5L321.2 283.5L323.5 283.5L325.8 283.5L327.7 281.8L329.6 281.6L331.4 280.7L333.3 280.7L335.2 279.7L338.0 280.8L339.9 279.6L342.1 280.1Z"/>
<path id="pCR" d="M334.4 307.3L335.9 306.1L337.5 304.1L340.1 304.3L342.1 303.2L343.6 303.8L345.8 303.5L348.2 305.0L350.2 303.4L352.4 304.4L355.2 303.3L354.2 304.7L354.2 306.9L353.2 309.8L355.3 309.3L356.8 310.8L358.5 312.1L360.0 312.6L361.9 311.4L363.8 311.6L366.4 311.8L367.8 311.0L370.3 310.2L372.1 309.6L373.2 308.5L374.7 307.1L376.8 306.9L378.9 306.3L380.3 307.2L382.3 307.0L384.2 307.7L386.3 308.7L386.8 310.2L387.6 312.5L387.2 314.4L386.9 316.2L387.4 318.4L386.2 320.5L387.0 322.1L388.6 323.1L388.9 325.4L391.0 326.8L389.9 329.1L390.4 330.1L389.7 331.7L388.0 333.0L387.9 334.9L385.6 335.2L385.0 337.2L383.2 337.7L380.9 338.4L378.9 337.7L377.0 337.7L375.6 337.5L374.0 338.1L371.5 336.7L370.3 338.3L368.0 338.6L366.2 339.0L364.2 338.0L362.7 339.0L360.2 338.4L359.0 339.9L356.9 340.5L354.7 339.6L352.8 340.0L351.6 340.7L349.4 341.5L347.3 340.9L349.6 339.8L351.9 339.5L349.1 338.7L347.9 338.9L346.1 338.2L344.0 339.1L341.8 337.9L340.5 336.6L338.7 336.2L336.7 334.7L335.9 333.7L334.1 332.4L332.0 331.1L330.4 330.5L328.6 328.9L329.5 327.0L330.8 325.6L331.7 324.4L332.9 322.1L332.2 319.9L332.1 317.5L334.4 316.5L334.6 314.1L335.2 312.7L336.7 310.8L335.2 309.5Z"/>
<path id="pCC" d="M282.5 277.8L284.6 277.3L286.0 275.9L288.4 275.8L290.3 274.4L291.9 272.6L293.5 272.6L296.1 272.4L297.0 270.6L298.8 272.1L301.3 272.9L302.6 275.0L304.4 278.0L306.2 275.9L308.5 276.8L310.6 276.6L311.8 278.3L314.0 280.3L316.0 280.1L317.9 280.1L319.4 281.1L321.0 281.9L321.2 283.5L320.6 285.5L319.9 287.3L319.4 288.9L321.5 291.1L321.9 292.6L323.9 294.1L324.5 296.4L324.6 299.0L325.6 301.3L326.4 303.0L329.0 303.0L330.7 303.8L332.3 305.8L334.4 307.3L331.9 307.2L329.3 308.0L327.3 306.7L325.1 308.6L323.5 308.5L321.0 309.0L320.3 310.9L319.2 312.0L316.7 313.3L314.6 312.7L312.0 313.8L310.7 315.9L308.6 315.6L306.2 315.3L304.1 316.3L301.6 315.6L299.7 317.5L297.2 319.0L296.1 317.1L294.0 315.4L292.9 312.7L290.8 312.7L289.0 312.5L287.1 312.2L284.8 312.6L282.4 312.7L282.1 310.2L281.3 309.2L281.2 307.0L278.9 306.6L277.0 305.0L275.2 304.9L273.5 305.6L272.4 307.7L269.8 308.2L268.6 306.5L268.2 303.8L266.6 301.9L265.1 301.2L264.8 298.5L263.4 297.8L265.0 297.6L267.5 297.4L269.5 297.7L271.5 297.0L273.5 297.2L275.1 296.7L276.4 294.7L277.6 292.9L279.3 291.0L278.2 288.9L279.2 287.5L279.0 285.4L280.7 283.4L278.9 281.6L277.3 279.3L279.4 279.5L280.4 278.0Z"/>
<path id="pBA" d="M269.8 308.2L272.4 307.7L273.5 305.6L275.2 304.9L277.0 305.0L278.9 306.6L281.2 307.0L281.3 309.2L282.1 310.2L282.4 312.7L284.8 312.6L287.1 312.2L289.0 312.5L290.8 312.7L292.9 312.7L294.0 315.4L296.1 317.1L297.2 319.0L299.7 317.5L301.6 315.6L304.1 316.3L306.2 315.3L308.6 315.6L310.7 315.9L312.0 313.8L314.6 312.7L316.7 313.3L319.2 312.0L320.3 310.9L321.0 309.0L323.5 308.5L325.1 308.6L327.3 306.7L329.3 308.0L331.9 307.2L334.4 307.3L335.2 309.5L336.7 310.8L335.2 312.7L334.6 314.1L334.4 316.5L332.1 317.5L332.2 319.9L332.9 322.1L331.7 324.4L330.8 325.6L329.5 327.0L328.6 328.9L325.7 329.4L323.6 329.5L321.9 331.7L319.6 332.4L318.7 334.5L315.8 334.5L314.2 336.7L313.2 339.6L312.1 341.1L313.3 342.5L312.9 344.4L311.9 346.5L311.7 348.7L309.9 347.3L308.8 345.7L306.0 347.2L303.9 348.1L302.8 350.5L301.6 351.7L299.6 352.7L297.4 352.7L295.7 353.2L293.6 352.6L291.6 351.6L290.3 351.1L287.7 350.8L286.0 350.0L283.7 349.7L281.5 348.4L279.8 347.0L278.0 346.0L276.8 344.7L275.1 343.5L272.3 343.0L271.5 340.9L269.9 339.5L268.7 337.2L266.9 336.0L267.4 333.7L268.1 331.6L268.2 330.0L269.3 328.3L270.4 326.4L271.2 324.8L273.2 323.2L275.2 322.8L275.7 320.5L275.7 319.0L276.7 316.8L274.9 315.2L273.7 312.7L271.5 311.5L269.9 310.0Z"/>
<path id="pH" d="M276.8 344.7L278.0 346.0L279.8 347.0L281.5 348.4L283.7 349.7L286.0 350.0L287.7 350.8L290.3 351.1L291.6 351.6L293.6 352.6L295.7 353.2L295.7 355.3L297.4 357.4L296.4 358.9L293.4 359.1L292.2 359.9L290.1 360.8L288.3 359.4L286.6 359.9L285.6 361.8L285.9 363.4L287.6 365.3L290.4 365.8L290.7 367.4L292.3 368.7L291.0 371.9L289.2 373.6L290.7 375.7L288.8 377.9L289.9 380.3L288.8 382.4L288.4 383.9L289.1 385.6L287.7 384.3L285.3 382.9L283.2 382.4L282.3 381.1L280.1 380.4L278.4 379.1L277.2 377.8L275.2 376.8L273.6 377.4L271.7 375.4L269.5 375.5L267.9 374.6L266.0 375.6L264.5 375.6L262.5 374.6L261.6 373.7L262.3 371.2L262.2 369.4L260.9 367.7L260.7 366.0L260.9 363.6L262.2 361.6L263.2 360.1L264.0 357.8L266.3 356.5L266.2 354.0L267.9 351.9L270.4 351.6L272.8 351.4L275.0 349.4L276.1 348.6L275.8 346.5Z"/>
<path id="pSE" d="M295.7 353.2L297.4 352.7L299.6 352.7L301.6 351.7L302.8 350.5L303.9 348.1L306.0 347.2L308.8 345.7L309.9 347.3L311.7 348.7L312.8 350.6L313.4 351.9L313.6 353.9L315.2 355.5L315.5 357.5L316.7 359.6L317.8 361.4L319.2 363.4L321.7 362.8L323.4 364.2L325.0 363.1L326.7 362.1L327.6 364.5L328.9 366.4L329.8 368.3L330.8 370.5L331.1 372.0L333.6 373.2L334.4 375.1L332.8 375.8L330.8 376.5L329.5 378.5L328.8 379.8L327.0 381.4L325.4 381.1L324.2 383.6L323.3 385.5L321.3 386.1L319.6 384.9L317.8 385.4L316.0 384.6L313.9 383.9L312.2 384.8L310.6 385.9L309.1 386.8L307.4 387.3L304.9 386.3L303.4 388.1L300.7 387.3L298.4 388.4L295.9 388.6L294.1 387.1L292.5 386.2L290.8 386.0L289.1 385.6L288.4 383.9L288.8 382.4L289.9 380.3L288.8 377.9L290.7 375.7L289.2 373.6L291.0 371.9L292.3 368.7L290.7 367.4L290.4 365.8L287.6 365.3L285.9 363.4L285.6 361.8L286.6 359.9L288.3 359.4L290.1 360.8L292.2 359.9L293.4 359.1L296.4 358.9L297.4 357.4L295.7 355.3Z"/>
<path id="pCA" d="M289.1 385.6L290.8 386.0L292.5 386.2L294.1 387.1L295.9 388.6L298.4 388.4L300.7 387.3L303.4 388.1L304.9 386.3L307.4 387.3L309.1 386.8L310.6 385.9L312.2 384.8L313.9 383.9L316.0 384.6L317.8 385.4L319.6 384.9L321.3 386.1L323.3 385.5L322.5 386.8L323.3 388.4L321.2 389.1L318.7 389.9L318.7 392.3L317.6 394.5L315.6 396.0L314.0 397.0L311.8 396.8L310.7 397.1L309.6 399.2L312.4 399.1L313.8 400.8L314.8 402.0L317.3 402.6L318.1 404.6L318.8 407.1L315.4 408.9L315.1 411.5L313.4 412.8L311.6 413.8L309.0 413.9L307.0 411.3L304.9 410.4L303.4 409.6L301.8 408.9L298.9 408.7L298.1 406.1L296.3 405.0L295.0 403.0L293.4 400.7L293.2 398.3L291.6 397.2L289.6 396.1L288.8 394.8L287.7 392.3L288.6 390.5L289.1 387.7Z"/>
<path id="pCO" d="M311.7 348.7L311.9 346.5L312.9 344.4L313.3 342.5L312.1 341.1L313.2 339.6L314.2 336.7L315.8 334.5L318.7 334.5L319.6 332.4L321.9 331.7L323.6 329.5L325.7 329.4L328.6 328.9L330.4 330.5L332.0 331.1L334.1 332.4L335.9 333.7L336.7 334.7L338.7 336.2L340.5 336.6L341.8 337.9L344.0 339.1L346.1 338.2L347.9 338.9L349.1 338.7L351.9 339.5L349.6 339.8L347.3 340.9L348.8 342.0L348.2 344.5L350.3 345.6L349.0 348.3L348.4 351.0L347.5 353.0L346.2 355.1L346.7 356.3L347.9 357.9L347.5 359.8L349.0 362.0L350.0 363.3L350.5 365.8L351.3 368.3L353.4 369.6L354.7 371.8L352.2 371.5L350.6 372.1L348.6 373.7L347.5 374.9L345.5 375.9L343.4 376.5L342.1 375.3L340.3 376.6L338.8 375.7L336.4 375.7L334.4 375.1L333.6 373.2L331.1 372.0L330.8 370.5L329.8 368.3L328.9 366.4L327.6 364.5L326.7 362.1L325.0 363.1L323.4 364.2L321.7 362.8L319.2 363.4L317.8 361.4L316.7 359.6L315.5 357.5L315.2 355.5L313.6 353.9L313.4 351.9L312.8 350.6Z"/>
<path id="pJ" d="M347.3 340.9L349.4 341.5L351.6 340.7L352.8 340.0L354.7 339.6L356.9 340.5L359.0 339.9L360.2 338.4L362.7 339.0L364.2 338.0L366.2 339.0L368.0 338.6L370.3 338.3L371.5 336.7L374.0 338.1L375.6 337.5L377.0 337.7L378.9 337.7L380.9 338.4L383.2 337.7L385.0 337.2L385.6 335.2L387.9 334.9L389.5 335.8L392.3 335.3L394.0 336.4L394.7 339.0L395.5 341.1L396.6 343.3L397.4 345.2L397.5 347.4L396.5 349.7L394.8 350.9L393.3 351.7L392.2 352.6L389.8 353.3L388.9 355.2L388.0 357.0L386.7 358.0L386.6 360.3L384.5 361.7L384.3 363.6L382.7 364.5L381.0 364.1L379.1 363.5L377.5 365.1L375.4 363.9L373.5 364.5L372.0 366.3L370.1 366.7L368.4 366.2L366.2 365.6L364.4 367.3L362.9 368.2L361.3 369.0L359.4 369.6L357.8 371.1L356.6 372.0L354.7 371.8L353.4 369.6L351.3 368.3L350.5 365.8L350.0 363.3L349.0 362.0L347.5 359.8L347.9 357.9L346.7 356.3L346.2 355.1L347.5 353.0L348.4 351.0L349.0 348.3L350.3 345.6L348.2 344.5L348.8 342.0Z"/>
<path id="pGR" d="M345.5 375.9L347.5 374.9L348.6 373.7L350.6 372.1L352.2 371.5L354.7 371.8L356.6 372.0L357.8 371.1L359.4 369.6L361.3 369.0L362.9 368.2L364.4 367.3L366.2 365.6L368.4 366.2L370.1 366.7L372.0 366.3L373.5 364.5L375.4 363.9L377.5 365.1L379.1 363.5L381.0 364.1L382.7 364.5L384.3 363.6L384.5 361.7L386.6 360.3L386.7 358.0L388.0 357.0L388.9 355.2L389.8 353.3L392.2 352.6L393.3 351.7L394.8 350.9L396.5 349.7L398.4 350.2L400.4 350.1L401.8 351.1L401.5 353.7L400.9 355.9L401.9 357.9L400.7 360.5L401.6 362.8L399.3 364.2L399.5 367.0L397.6 367.5L396.7 369.7L393.7 369.5L392.1 372.0L391.4 373.6L389.8 376.0L388.0 377.1L386.0 377.4L384.6 378.9L382.8 380.4L381.7 382.5L380.8 384.7L380.9 387.0L380.6 388.6L379.7 391.0L378.5 391.9L376.3 392.4L374.6 392.7L371.8 392.3L370.3 393.5L367.4 393.6L365.4 393.0L362.9 391.4L360.7 391.9L358.5 390.4L356.5 388.5L354.3 387.9L352.2 387.0L350.0 386.3L348.7 384.0L347.2 382.0L347.0 379.8L346.8 378.0Z"/>
<path id="pAL" d="M401.8 351.1L402.9 354.0L405.2 355.1L407.0 355.3L409.5 355.1L411.1 357.9L411.2 360.1L412.3 361.8L412.5 363.7L412.9 366.2L412.8 368.1L414.8 368.4L415.1 371.4L416.9 371.9L419.4 372.9L417.2 373.9L416.7 375.9L414.7 376.7L413.9 378.1L413.7 380.4L414.2 382.5L412.3 384.4L411.3 386.0L409.3 387.5L408.2 388.9L406.3 390.5L404.3 392.3L403.0 392.0L401.3 390.8L399.1 391.1L397.0 389.6L394.7 390.6L393.4 392.6L391.2 392.7L389.3 394.6L386.8 394.0L385.1 392.4L382.7 392.6L380.9 392.2L378.5 391.9L379.7 391.0L380.6 388.6L380.9 387.0L380.8 384.7L381.7 382.5L382.8 380.4L384.6 378.9L386.0 377.4L388.0 377.1L389.8 376.0L391.4 373.6L392.1 372.0L393.7 369.5L396.7 369.7L397.6 367.5L399.5 367.0L399.3 364.2L401.6 362.8L400.7 360.5L401.9 357.9L400.9 355.9L401.5 353.7Z"/>
<path id="pMA" d="M334.4 375.1L336.4 375.7L338.8 375.7L340.3 376.6L342.1 375.3L343.4 376.5L345.5 375.9L346.8 378.0L347.0 379.8L347.2 382.0L348.7 384.0L350.0 386.3L352.2 387.0L354.3 387.9L356.5 388.5L358.5 390.4L360.7 391.9L358.8 392.7L356.0 392.9L354.2 392.4L351.6 393.3L349.5 391.8L347.4 392.2L345.4 392.0L343.0 392.9L341.4 393.9L339.7 394.5L338.3 395.4L336.7 396.5L334.8 396.9L333.0 397.7L331.2 399.1L329.6 399.5L327.6 399.4L325.8 400.0L323.5 400.2L321.7 400.0L320.0 402.0L319.6 403.1L318.1 404.6L317.3 402.6L314.8 402.0L313.8 400.8L312.4 399.1L309.6 399.2L310.7 397.1L311.8 396.8L314.0 397.0L315.6 396.0L317.6 394.5L318.7 392.3L318.7 389.9L321.2 389.1L323.3 388.4L322.5 386.8L323.3 385.5L324.2 383.6L325.4 381.1L327.0 381.4L328.8 379.8L329.5 378.5L330.8 376.5L332.8 375.8Z"/>
<path id="pIB" d="M526.1 297.3L527.3 296.2L529.2 295.4L530.9 293.7L532.3 292.8L533.8 291.6L535.1 290.1L537.2 288.7L539.0 287.4L540.7 286.6L542.9 287.2L543.6 288.8L544.6 291.2L546.3 291.7L547.4 291.9L549.3 291.4L551.3 291.0L553.3 292.0L552.1 293.8L551.5 295.0L550.3 296.2L549.1 298.1L548.7 299.9L547.9 302.5L546.3 303.9L545.5 304.5L543.4 305.8L542.2 303.3L539.9 303.5L538.7 303.0L536.8 302.6L536.4 300.8L535.0 298.5L532.7 298.0L531.0 297.9L527.8 298.7ZM563.6 281.6L565.5 280.5L566.8 280.3L569.3 280.7L571.6 280.9L572.6 282.5L573.7 283.9L572.1 285.8L570.6 284.6L568.5 283.3L566.5 283.3L564.4 283.1ZM496.5 320.5L497.8 318.6L498.4 316.5L500.2 315.7L502.1 315.3L503.6 314.8L505.1 317.0L503.3 318.2L501.7 320.3L499.6 321.6L498.2 321.2ZM500.9 327.1L501.9 327.0L502.1 328.1L500.7 328.0Z"/>
<path id="pTF" d="M138.0 425.7L140.1 425.6L142.4 425.5L144.0 425.2L144.8 426.5L144.7 428.7L144.2 430.2L143.4 432.6L142.9 434.3L141.7 433.2L140.8 431.3L139.5 430.1L138.9 427.6ZM132.4 459.1L134.7 458.1L136.3 457.3L138.2 456.0L138.8 457.8L137.8 459.7L136.4 461.3L134.4 459.7ZM157.6 446.5L159.4 445.7L160.7 444.9L162.1 446.6L164.2 447.6L161.9 448.6L160.5 449.6L158.2 448.6ZM171.7 440.6L174.0 440.3L175.6 440.4L177.8 440.2L179.5 440.0L181.4 438.8L183.0 437.5L184.5 436.1L186.8 435.9L189.0 434.8L191.0 434.1L193.3 434.2L191.5 435.5L190.2 437.3L188.2 438.3L188.0 439.9L186.6 441.4L185.4 442.9L184.5 445.0L182.9 446.8L181.6 447.6L180.4 448.7L179.3 450.2L177.8 449.7L176.2 449.7L175.5 447.7L173.5 445.8L173.1 444.0L172.6 442.4Z"/>
<path id="pGC" d="M216.7 453.4L216.1 456.5L214.4 458.2L211.8 459.5L208.9 459.6L206.4 458.1L204.5 456.0L204.3 453.6L205.2 450.5L207.0 448.6L209.2 447.3L212.0 447.3L214.3 448.3L215.9 450.9ZM260.6 428.7L261.8 430.0L263.5 430.5L263.4 432.7L263.2 435.2L262.3 436.9L262.6 438.8L262.1 440.5L260.2 441.9L259.1 443.4L257.6 445.3L255.9 445.2L253.8 445.5L252.3 446.0L251.4 446.9L249.0 448.2L248.2 449.2L245.1 449.1L247.0 447.9L248.3 446.8L250.2 446.3L251.9 444.8L253.0 443.0L253.7 440.7L254.1 439.1L255.1 437.0L256.2 435.0L256.7 433.8L257.9 431.9L258.6 429.9ZM263.5 419.8L265.7 418.8L267.0 418.0L269.3 417.0L271.0 416.9L272.9 416.0L274.2 414.6L275.1 413.5L274.6 414.8L274.8 417.0L273.2 418.0L271.9 419.2L271.0 420.6L269.0 421.6L267.5 422.3L265.9 423.0L264.5 423.1L263.8 421.4Z"/>
<path id="pADE" d="M426.7 284.2L431.7 283.7L432.5 286.3L427.5 287.0Z"/>
<g id="base"><use href="#pC"/><use href="#pLU"/><use href="#pPO"/><use href="#pOU"/><use href="#pO"/><use href="#pS"/><use href="#pBI"/><use href="#pSS"/><use href="#pVI"/><use href="#pNA"/><use href="#pLO"/><use href="#pLE"/><use href="#pP"/><use href="#pBU"/><use href="#pZA"/><use href="#pVA"/><use href="#pSA"/><use href="#pAV"/><use href="#pSG"/><use href="#pSO"/><use href="#pM"/><use href="#pGU"/><use href="#pZ"/><use href="#pHU"/><use href="#pL"/><use href="#pGI"/><use href="#pB"/><use href="#pT"/><use href="#pTE"/><use href="#pCS"/><use href="#pV"/><use href="#pA"/><use href="#pMU"/><use href="#pAB"/><use href="#pCU"/><use href="#pTO"/><use href="#pCR"/><use href="#pCC"/><use href="#pBA"/><use href="#pH"/><use href="#pSE"/><use href="#pCA"/><use href="#pCO"/><use href="#pJ"/><use href="#pGR"/><use href="#pAL"/><use href="#pMA"/><use href="#pIB"/></g>
<g id="deco" fill="none" stroke="#fff" stroke-linejoin="round" stroke-linecap="round"><path d="M264.1 166.6L263.7 168.6L262.2 169.8L262.8 171.8L261.8 173.6L259.4 174.9L259.8 177.3L259.3 179.2L258.6 180.1L258.2 182.3L257.3 184.2L258.0 186.9L258.2 188.5L257.7 191.7L257.0 192.7L256.2 194.4M256.2 194.4L254.7 193.1L252.0 191.9L250.4 191.9L248.6 192.0L246.6 192.9L244.3 194.5L241.8 195.8L239.8 195.9L237.7 196.0L236.1 197.8M256.2 194.4L257.0 197.0L256.8 199.0M256.8 199.0L254.9 200.4L252.5 201.4L250.2 201.4L247.6 201.9L246.6 203.8L246.4 204.9L246.8 207.0L247.3 209.0L247.1 210.7L247.6 212.5L248.8 214.5M256.8 199.0L258.4 200.6L259.5 202.1L259.4 203.5L261.9 204.9L262.8 206.5L263.9 208.1L266.2 207.4L268.0 206.7L269.8 207.8L272.3 208.3L273.6 210.2L275.5 210.7M275.5 210.7L275.9 208.5L278.4 206.8L278.7 204.9L279.3 202.8L279.8 201.3L280.4 199.3L281.9 198.4L282.8 196.6L285.2 195.9L285.2 193.7L286.6 192.2L284.6 191.2L282.9 190.0L281.3 189.2L283.5 187.2L284.4 185.1M279.9 172.9L278.2 174.2L277.8 175.7L278.8 177.9L280.1 180.2L280.2 182.0L282.2 183.8L284.4 185.1M275.5 210.7L277.1 208.9L278.0 207.8L279.8 208.0L281.4 206.3L283.3 206.3L284.5 207.8L285.8 209.5L286.8 212.3M286.8 212.3L285.1 213.2L284.0 215.9L282.1 216.8L280.5 218.0L279.5 219.7M284.4 185.1L285.3 187.5L284.9 189.6L284.7 191.6L287.9 191.2L289.9 191.2L291.9 190.4L294.1 190.3L295.7 188.0L297.8 187.5L299.5 187.7L301.3 187.6L302.9 187.4L304.8 187.3L306.9 188.1L308.8 189.3L310.0 191.3L311.1 192.2L313.3 190.7L315.7 190.7L317.4 190.0L319.0 188.7L321.0 189.4L322.6 187.6L324.4 188.3L326.6 187.5L327.9 186.2L330.2 185.6L332.2 185.0L333.8 185.3L335.6 184.7M343.7 180.6L341.1 181.3L338.9 182.0L337.6 184.5L335.6 184.7M335.6 184.7L335.6 187.2L336.9 189.5M336.9 189.5L338.5 190.3L341.1 190.7L342.5 189.8L344.5 190.9L345.8 191.2L347.7 192.4L349.0 193.5L351.5 193.9L353.1 195.6L354.1 197.9M354.1 197.9L356.3 197.6L358.8 197.4L359.2 195.3L358.3 193.3L358.7 192.0L360.0 190.3L361.7 188.2L362.7 187.1L365.3 186.7L367.8 186.2L369.7 184.5L371.7 184.3L373.3 182.5L375.9 183.2L377.9 183.1L375.7 182.8L373.8 183.6L372.5 184.8M375.8 181.2L374.6 183.2L372.5 184.8M372.5 184.8L374.6 185.2L375.7 187.4L378.1 186.5L378.8 190.0M378.8 190.0L381.0 189.3L382.9 189.9L385.1 189.9L387.5 191.5L389.4 192.2L391.6 191.8L394.6 191.7M395.4 182.1L395.2 184.8L395.0 186.9L393.7 189.5L394.6 191.7M394.6 191.7L395.6 192.6L397.8 192.8L399.0 192.9L400.8 193.3M412.5 181.7L410.5 182.7L408.7 184.2L407.8 186.5L406.7 188.5L405.2 190.3L404.0 191.6L401.7 191.7L400.8 193.3M400.8 193.3L399.5 196.0L399.9 198.7L398.6 200.7L399.1 203.7L398.2 206.0L397.9 208.5M379.6 203.8L381.3 204.5L383.4 205.1L384.5 206.8L386.3 207.6L388.2 207.5L390.4 208.2L391.7 208.4L394.3 208.2L395.9 207.5L397.9 208.5M378.8 190.0L378.0 192.3L375.3 193.0L375.3 195.0L376.2 196.4L378.0 197.0L379.4 198.6L381.1 199.3L379.6 201.7L379.6 203.8M379.6 203.8L379.3 206.0L380.0 208.0L378.7 209.9L379.4 211.9L379.6 213.6L378.4 216.5L380.5 218.4L381.8 219.5L383.3 220.5L384.6 222.5M397.9 208.5L399.8 209.3L401.8 210.1L402.8 211.5L405.6 211.7L406.5 214.0L408.5 213.6L410.3 214.6L411.6 216.4L413.2 216.8L415.7 217.0L412.9 218.1L411.3 218.8L412.0 221.9L410.6 223.3M384.6 222.5L387.1 221.9L388.1 219.9L389.9 220.9L391.8 222.7L393.7 223.5L394.5 221.9L396.6 221.4L398.2 220.3L399.8 222.1L401.1 223.1L403.2 224.0L404.5 224.3L407.0 224.4L408.2 223.7L410.6 223.3M410.6 223.3L413.1 223.6L414.2 225.7L416.1 227.0L418.8 226.8L421.2 227.1L423.7 226.6L423.8 223.5L426.2 222.2L426.0 220.0L424.9 218.0L422.6 216.8L423.0 214.5L422.7 212.9L424.9 211.2L424.8 208.4L426.6 206.6L427.4 205.0L428.7 202.8L430.2 201.2L432.8 201.6L434.6 200.4M435.4 194.6L434.2 196.3L434.0 198.7L434.6 200.4M336.9 189.5L336.2 191.3L334.8 192.1L334.6 194.5L335.5 196.9L333.9 198.3L334.6 200.1L332.7 202.8L333.5 204.9L332.9 206.9L333.4 209.2L330.7 210.5L330.1 212.8L328.6 214.6M328.6 214.6L326.7 214.1L324.4 214.8L322.1 215.3L322.1 217.8L320.5 219.1L321.8 220.8L320.7 222.6M286.8 212.3L284.7 212.9L282.9 213.6L281.6 214.5L283.5 215.2L285.6 215.7L288.0 216.1L290.3 215.4L291.8 214.7L293.8 216.1L296.1 216.1L298.1 216.4L299.5 217.4L301.8 217.1L303.7 217.9L305.6 217.8L307.3 218.8L309.7 218.3L311.1 219.5L313.6 219.2L315.4 220.4L317.2 220.1L319.0 221.2L320.7 222.6M354.1 197.9L353.1 199.7L351.4 200.6L349.0 200.6L348.6 203.4L349.8 205.3L348.9 207.0L348.2 209.0L349.3 211.7L350.6 213.1L350.2 216.0L350.5 218.4L353.3 219.4L355.3 220.2L357.2 221.9L358.4 223.1L358.3 225.1L358.0 226.9L355.6 227.9L354.5 229.8M328.6 214.6L329.5 216.0L329.3 217.5L330.2 219.3L332.2 220.7L331.0 222.5L330.7 225.3L332.6 226.6L333.5 228.2L336.0 229.0L337.1 228.1L339.2 227.5L341.5 228.3L341.7 230.5L343.9 230.4L345.7 231.6L347.8 231.8L349.2 231.8L351.0 230.8L352.3 229.4L354.5 229.8M320.7 222.6L322.5 224.8L323.1 225.8L321.9 227.5L322.8 230.0L321.9 231.8L322.0 233.3L321.9 235.3L322.8 237.4L323.9 238.6L324.7 240.5L324.1 242.7L324.1 245.0L324.3 247.0L325.8 248.5L326.4 251.1L328.1 252.6M295.8 245.8L298.1 246.0L300.3 245.8L302.3 246.6L304.7 247.8L306.4 247.7L308.7 247.4L311.1 247.5L312.5 249.2L315.1 248.3L316.7 249.7L318.6 248.9L320.4 250.2L322.3 251.7L324.6 251.7L326.7 251.6L328.1 252.6M328.1 252.6L330.2 253.4L332.2 254.7L333.7 255.4L336.1 253.2L338.9 252.3M338.9 252.3L339.1 250.1L341.7 248.9L342.6 246.5L344.2 245.0L345.2 244.1L346.6 242.8L349.3 243.0L350.9 242.7L353.2 240.8L354.4 240.1L356.7 239.6L359.0 239.5M354.5 229.8L355.3 232.1L356.2 233.7L357.0 236.1L357.9 238.0L359.0 239.5M359.0 239.5L360.3 241.8L362.2 242.7L364.5 241.6L365.2 240.2L366.6 238.8L368.9 240.3L371.3 240.0M371.3 240.0L373.0 238.2L374.4 236.8L375.9 235.1L376.3 231.7L377.7 230.4L379.7 229.8L380.0 227.3L382.5 226.4L383.1 224.5L384.6 222.5M371.3 240.0L371.2 242.3L373.3 244.3L373.3 246.7M373.3 246.7L371.7 248.6L370.8 250.4L369.2 252.5M369.2 252.5L367.6 253.0L365.7 254.6L364.6 255.4L363.2 256.6L360.1 257.1L358.7 257.9L357.5 260.6L355.6 261.7L355.0 263.5L353.5 264.3L351.8 265.9L350.7 267.0L348.2 267.6M338.9 252.3L339.1 254.8L341.5 255.4L341.7 257.8L342.3 260.1L344.0 261.7L344.7 262.9L345.0 264.9L346.1 266.5L348.2 267.6M328.1 252.6L327.4 254.9L328.5 257.0L327.4 258.4L326.5 260.8L325.8 261.6L325.0 263.6L322.4 263.8L321.3 266.2L319.1 266.5L318.0 268.4L317.1 270.5L317.2 273.2L313.7 273.4L313.1 276.0L310.6 276.6M310.6 276.6L308.5 276.8L306.2 275.9L304.4 278.0L302.6 275.0L301.3 272.9L298.8 272.1L297.0 270.6L296.1 272.4L293.5 272.6L291.9 272.6L290.3 274.4L288.4 275.8L286.0 275.9L284.6 277.3L282.5 277.8M310.6 276.6L311.8 278.3L314.0 280.3L316.0 280.1L317.9 280.1L319.4 281.1L321.0 281.9L321.2 283.5M348.2 267.6L348.6 269.6L348.1 271.2L346.8 273.0L346.2 275.1L344.9 276.7L344.1 279.1M344.1 279.1L342.1 280.1L339.9 279.6L338.0 280.8L335.2 279.7L333.3 280.7L331.4 280.7L329.6 281.6L327.7 281.8L325.8 283.5L323.5 283.5L321.2 283.5M321.2 283.5L320.6 285.5L319.9 287.3L319.4 288.9L321.5 291.1L321.9 292.6L323.9 294.1L324.5 296.4L324.6 299.0L325.6 301.3L326.4 303.0L329.0 303.0L330.7 303.8L332.3 305.8L334.4 307.3M410.6 223.3L411.5 224.8L411.6 227.4L411.5 229.4L412.5 230.8L413.7 232.5L412.7 234.5L410.2 234.7L409.1 236.5L407.7 237.7L407.6 240.3L406.2 241.2L405.2 243.4L404.5 245.2L406.0 247.3L406.5 249.3L406.7 251.7M406.7 251.7L405.0 252.8L403.3 252.3L402.1 254.4L399.7 254.2L397.7 253.1L395.1 251.8L393.2 251.7L390.8 251.0L389.7 249.8L387.7 248.5L385.2 248.3L383.0 247.5L381.1 246.3L378.5 246.4L375.9 246.2L373.3 246.7M369.2 252.5L369.6 254.6L369.9 256.8L369.9 259.0L369.5 261.6L370.4 262.9L371.5 265.5L372.3 267.0L374.0 268.3L374.4 271.1L376.4 272.5L376.1 274.8L378.2 276.3L379.0 278.2L378.1 281.1L379.7 282.7L379.5 285.0M344.1 279.1L346.0 278.9L347.8 278.5L349.4 278.9L351.2 277.0L353.0 279.4L354.5 279.3L356.3 279.8L357.7 281.2L360.2 280.9L362.4 282.8L363.8 283.5L365.6 284.9L367.9 285.3L369.5 285.6L371.4 285.6L373.2 285.1L375.2 285.6L377.6 285.6L379.5 285.0M406.7 251.7L408.3 253.0L411.1 253.4L412.7 254.2L415.0 254.2L416.0 256.7L417.4 258.5L419.5 260.0M419.5 260.0L418.4 262.1L419.5 264.0L417.8 265.9L418.2 268.4L418.6 270.4L417.3 271.7L416.7 273.3M416.7 273.3L414.7 271.9L413.6 270.3L411.4 270.0L408.9 269.9L407.2 268.3L404.7 267.3L402.8 268.0L400.6 268.2L399.0 268.5L397.0 268.5L394.8 269.5L392.8 270.6L391.3 271.6L389.3 272.6L388.2 273.4L387.1 275.3L386.1 276.6L384.0 278.1L382.9 279.6L382.3 282.0L380.1 282.6L379.5 285.0M416.7 273.3L417.7 275.6L418.8 277.5L420.2 279.1L421.4 280.1L423.9 281.6L425.5 282.9L426.5 285.7L428.0 287.0M428.0 287.0L427.7 289.4L427.3 291.5L428.8 293.7L427.7 295.9L426.3 296.7L425.3 299.6L423.9 300.6L422.5 303.1L421.7 304.8M421.7 304.8L421.4 306.4L418.9 307.0L417.0 307.2L415.7 309.3L414.0 310.2L412.8 309.5L410.2 310.0L409.0 309.9L406.8 309.2L404.9 311.0L403.2 310.7L401.3 312.1L399.2 311.7L397.1 311.4L395.4 311.8L393.8 310.1L391.5 309.6L389.3 309.8L388.5 308.5L386.3 308.7M379.5 285.0L379.7 287.2L380.7 288.7L381.5 290.9L381.1 293.4L383.5 294.9L383.1 297.0L384.9 298.8L384.1 301.2L386.2 302.9L385.9 305.1L386.8 307.0L386.3 308.7M386.3 308.7L384.2 307.7L382.3 307.0L380.3 307.2L378.9 306.3L376.8 306.9L374.7 307.1L373.2 308.5L372.1 309.6L370.3 310.2L367.8 311.0L366.4 311.8L363.8 311.6L361.9 311.4L360.0 312.6L358.5 312.1L356.8 310.8L355.3 309.3L353.2 309.8L354.2 306.9L354.2 304.7L355.2 303.3L352.4 304.4L350.2 303.4L348.2 305.0L345.8 303.5L343.6 303.8L342.1 303.2L340.1 304.3L337.5 304.1L335.9 306.1L334.4 307.3M386.3 308.7L386.8 310.2L387.6 312.5L387.2 314.4L386.9 316.2L387.4 318.4L386.2 320.5L387.0 322.1L388.6 323.1L388.9 325.4L391.0 326.8L389.9 329.1L390.4 330.1L389.7 331.7L388.0 333.0L387.9 334.9M387.9 334.9L385.6 335.2L385.0 337.2L383.2 337.7L380.9 338.4L378.9 337.7L377.0 337.7L375.6 337.5L374.0 338.1L371.5 336.7L370.3 338.3L368.0 338.6L366.2 339.0L364.2 338.0L362.7 339.0L360.2 338.4L359.0 339.9L356.9 340.5L354.7 339.6L352.8 340.0L351.6 340.7L349.4 341.5L347.3 340.9M347.3 340.9L349.6 339.8L351.9 339.5L349.1 338.7L347.9 338.9L346.1 338.2L344.0 339.1L341.8 337.9L340.5 336.6L338.7 336.2L336.7 334.7L335.9 333.7L334.1 332.4L332.0 331.1L330.4 330.5L328.6 328.9M334.4 307.3L335.2 309.5L336.7 310.8L335.2 312.7L334.6 314.1L334.4 316.5L332.1 317.5L332.2 319.9L332.9 322.1L331.7 324.4L330.8 325.6L329.5 327.0L328.6 328.9M434.6 200.4L435.1 202.3L436.2 204.1L437.0 206.3L436.8 208.3L439.2 209.8L438.3 211.6L439.0 213.6L437.9 215.7L438.0 218.0L437.5 220.0L437.0 221.9L438.7 223.4L441.0 224.6L442.0 226.6L444.5 228.0L444.7 230.6L447.2 231.5L448.7 232.1L449.7 234.6L451.0 235.6L453.5 236.5L455.0 238.6L457.0 239.8L458.2 240.7L459.9 242.8L462.3 243.5L464.1 243.0L466.4 243.5L468.3 243.0M476.1 194.9L477.1 197.2L477.3 199.0L478.4 200.8L478.5 203.2L478.2 205.3L477.4 206.4L476.4 208.8L477.8 210.3L478.1 212.2L477.8 214.2L478.0 215.5L476.2 217.3L476.5 219.4L475.1 221.5L474.0 222.9L472.9 224.7L471.9 227.3L470.6 229.1L469.2 230.4L468.8 232.9L469.7 234.2L470.3 236.0L469.8 237.6L469.1 239.5L469.4 241.7L468.3 243.0M468.3 243.0L470.6 242.7L471.9 243.4L474.3 243.1L476.0 245.0L477.9 243.7L480.1 243.0L482.7 242.8L484.3 242.0L486.6 241.0L487.6 239.0L488.7 236.4L491.4 234.9L493.9 234.8L495.7 233.7M495.7 233.7L497.4 235.6L496.7 238.3L499.4 239.3L499.4 241.8L500.1 243.5L501.1 244.7L502.8 245.9M468.3 243.0L466.7 244.7L467.3 246.3L466.6 248.3L466.3 250.5L465.8 252.5M465.8 252.5L463.4 253.4L462.1 253.7L460.5 251.7L457.8 250.6L456.6 249.0L454.1 248.6L451.4 248.2L449.9 247.6L447.5 245.3L445.7 244.9L444.4 245.1L443.6 247.1L441.4 247.6L439.2 248.6L437.5 250.7L435.7 251.6L432.9 250.9L430.8 250.5L428.5 251.4L425.8 251.6L425.5 253.7L423.3 254.3L422.4 256.5L420.7 258.3L419.5 260.0M465.8 252.5L466.9 254.5L466.8 256.3L466.7 258.4L466.2 260.2L467.5 262.5M467.5 262.5L469.6 263.7L471.5 265.5L471.7 267.5L474.2 267.8M467.5 262.5L465.3 261.9L462.9 261.8L461.0 262.6L458.6 262.6L456.9 263.4L454.6 263.2L453.6 264.8L452.7 266.3L450.7 268.3L450.4 270.0L450.0 272.5L451.7 274.5L451.3 276.6L450.7 278.6L450.0 280.3L448.3 281.6L447.1 283.8L445.5 284.6L442.8 285.1L441.7 287.0L440.0 286.7L438.3 288.3M438.3 288.3L440.3 288.5L441.3 290.8L442.6 291.7L445.5 291.6L446.6 293.9L449.2 293.4L451.3 295.5L453.2 296.8L455.2 295.9L456.5 293.8L458.3 294.2M438.3 288.3L435.7 288.6L433.1 286.9L431.6 287.4L429.7 286.1L428.0 287.0M421.7 304.8L423.7 306.3L425.3 307.1L427.5 308.2L430.2 308.6L430.2 310.8L431.1 312.3L430.3 314.5L429.4 315.7L428.0 317.2L430.7 318.5L431.4 320.3L432.6 322.7L434.9 322.7L436.1 323.3L436.4 325.5L437.6 327.5M437.6 327.5L440.4 327.7L442.1 327.9L445.1 328.9L446.6 327.3L448.6 326.1L450.4 325.4L452.1 324.4L454.7 323.7L457.1 323.9L459.8 322.4M437.6 327.5L435.7 328.9L434.6 330.8L434.6 332.8M434.6 332.8L434.1 334.7L434.0 336.3L432.9 338.1L434.6 340.0L436.1 342.3L435.8 345.6L434.4 347.0L435.6 349.3L437.8 351.0L438.6 352.9L439.2 355.2L439.9 357.0L441.8 358.3M401.8 351.1L402.9 349.0L404.0 347.6L405.0 345.9L406.6 345.0L408.2 343.2L410.6 343.7L412.2 341.5L413.7 340.8L416.1 340.1L418.8 341.1L420.6 340.9L422.8 340.6L423.3 338.3L422.9 337.6L424.4 335.5L424.1 333.6L425.2 332.0L426.0 330.4L427.2 328.5L428.9 328.3L429.9 327.5L431.8 330.0L432.9 331.4L434.6 332.8M401.8 351.1L402.9 354.0L405.2 355.1L407.0 355.3L409.5 355.1L411.1 357.9L411.2 360.1L412.3 361.8L412.5 363.7L412.9 366.2L412.8 368.1L414.8 368.4L415.1 371.4L416.9 371.9L419.4 372.9M401.8 351.1L401.5 353.7L400.9 355.9L401.9 357.9L400.7 360.5L401.6 362.8L399.3 364.2L399.5 367.0L397.6 367.5L396.7 369.7L393.7 369.5L392.1 372.0L391.4 373.6L389.8 376.0L388.0 377.1L386.0 377.4L384.6 378.9L382.8 380.4L381.7 382.5L380.8 384.7L380.9 387.0L380.6 388.6L379.7 391.0L378.5 391.9M396.5 349.7L398.4 350.2L400.4 350.1L401.8 351.1M387.9 334.9L389.5 335.8L392.3 335.3L394.0 336.4L394.7 339.0L395.5 341.1L396.6 343.3L397.4 345.2L397.5 347.4L396.5 349.7M347.3 340.9L348.8 342.0L348.2 344.5L350.3 345.6L349.0 348.3L348.4 351.0L347.5 353.0L346.2 355.1L346.7 356.3L347.9 357.9L347.5 359.8L349.0 362.0L350.0 363.3L350.5 365.8L351.3 368.3L353.4 369.6L354.7 371.8M354.7 371.8L352.2 371.5L350.6 372.1L348.6 373.7L347.5 374.9L345.5 375.9M354.7 371.8L356.6 372.0L357.8 371.1L359.4 369.6L361.3 369.0L362.9 368.2L364.4 367.3L366.2 365.6L368.4 366.2L370.1 366.7L372.0 366.3L373.5 364.5L375.4 363.9L377.5 365.1L379.1 363.5L381.0 364.1L382.7 364.5L384.3 363.6L384.5 361.7L386.6 360.3L386.7 358.0L388.0 357.0L388.9 355.2L389.8 353.3L392.2 352.6L393.3 351.7L394.8 350.9L396.5 349.7M345.5 375.9L346.8 378.0L347.0 379.8L347.2 382.0L348.7 384.0L350.0 386.3L352.2 387.0L354.3 387.9L356.5 388.5L358.5 390.4L360.7 391.9M334.4 375.1L336.4 375.7L338.8 375.7L340.3 376.6L342.1 375.3L343.4 376.5L345.5 375.9M311.7 348.7L312.8 350.6L313.4 351.9L313.6 353.9L315.2 355.5L315.5 357.5L316.7 359.6L317.8 361.4L319.2 363.4L321.7 362.8L323.4 364.2L325.0 363.1L326.7 362.1L327.6 364.5L328.9 366.4L329.8 368.3L330.8 370.5L331.1 372.0L333.6 373.2L334.4 375.1M328.6 328.9L325.7 329.4L323.6 329.5L321.9 331.7L319.6 332.4L318.7 334.5L315.8 334.5L314.2 336.7L313.2 339.6L312.1 341.1L313.3 342.5L312.9 344.4L311.9 346.5L311.7 348.7M295.7 353.2L297.4 352.7L299.6 352.7L301.6 351.7L302.8 350.5L303.9 348.1L306.0 347.2L308.8 345.7L309.9 347.3L311.7 348.7M276.8 344.7L278.0 346.0L279.8 347.0L281.5 348.4L283.7 349.7L286.0 350.0L287.7 350.8L290.3 351.1L291.6 351.6L293.6 352.6L295.7 353.2M295.7 353.2L295.7 355.3L297.4 357.4L296.4 358.9L293.4 359.1L292.2 359.9L290.1 360.8L288.3 359.4L286.6 359.9L285.6 361.8L285.9 363.4L287.6 365.3L290.4 365.8L290.7 367.4L292.3 368.7L291.0 371.9L289.2 373.6L290.7 375.7L288.8 377.9L289.9 380.3L288.8 382.4L288.4 383.9L289.1 385.6M334.4 375.1L332.8 375.8L330.8 376.5L329.5 378.5L328.8 379.8L327.0 381.4L325.4 381.1L324.2 383.6L323.3 385.5M323.3 385.5L321.3 386.1L319.6 384.9L317.8 385.4L316.0 384.6L313.9 383.9L312.2 384.8L310.6 385.9L309.1 386.8L307.4 387.3L304.9 386.3L303.4 388.1L300.7 387.3L298.4 388.4L295.9 388.6L294.1 387.1L292.5 386.2L290.8 386.0L289.1 385.6M323.3 385.5L322.5 386.8L323.3 388.4L321.2 389.1L318.7 389.9L318.7 392.3L317.6 394.5L315.6 396.0L314.0 397.0L311.8 396.8L310.7 397.1L309.6 399.2L312.4 399.1L313.8 400.8L314.8 402.0L317.3 402.6L318.1 404.6M269.8 308.2L272.4 307.7L273.5 305.6L275.2 304.9L277.0 305.0L278.9 306.6L281.2 307.0L281.3 309.2L282.1 310.2L282.4 312.7L284.8 312.6L287.1 312.2L289.0 312.5L290.8 312.7L292.9 312.7L294.0 315.4L296.1 317.1L297.2 319.0L299.7 317.5L301.6 315.6L304.1 316.3L306.2 315.3L308.6 315.6L310.7 315.9L312.0 313.8L314.6 312.7L316.7 313.3L319.2 312.0L320.3 310.9L321.0 309.0L323.5 308.5L325.1 308.6L327.3 306.7L329.3 308.0L331.9 307.2L334.4 307.3" stroke-width="1.8"/><path d="M503.8 209.9L501.3 211.9L501.5 214.1L501.6 216.2L501.9 218.0L501.7 220.5L502.7 223.0L500.3 224.8L498.5 226.8L497.3 227.9L496.3 229.5L495.6 231.7L495.7 233.7" stroke-width="2.9"/><path d="M509.4 212.2L508.7 214.4L508.7 215.8L511.5 215.3L513.6 216.8L515.0 217.3L517.8 217.5L520.8 216.2L520.4 219.6L522.1 220.9L520.1 222.8L518.9 224.5L519.6 226.1L521.7 225.7L523.2 227.5L524.8 228.7L527.0 228.7L529.3 230.0" stroke-width="2.1"/><ellipse cx="506.1" cy="208.9" rx="2.4" ry="2.2" fill="#fff" stroke="none"/><ellipse cx="389.2" cy="200.4" rx="2.8" ry="1.6" stroke-width="1"/><ellipse cx="377.5" cy="195.0" rx="1.8" ry="1.3" stroke-width="0.9"/><circle cx="431.2" cy="208.3" r="1.1" fill="#fff" stroke="none"/><path d="M357.6 291.4L360.7 289.3L365.9 286.0L366.9 285.2L367.4 286.3L363.7 289.3L360.0 291.9L358.1 292.2Z" fill="#fff" stroke="#fff" stroke-width="0.7"/></g>
</defs>
<circle cx="128.5" cy="101.7" r="10.4" fill="#00b050"/>
<circle cx="611.7" cy="99.6" r="10.4" fill="#b9df8c"/>
<g transform="translate(0.00 0.00) scale(1.0 1.0)" stroke-width="0.9" stroke-linejoin="round" style="filter:blur(0.35px)"><use href="#base" fill="#b9df8c" stroke="#b9df8c"/><use href="#pSO" fill="#00b050" stroke="#00b050"/><use href="#pGU" fill="#00b050" stroke="#00b050"/><use href="#pM" fill="#00b050" stroke="#00b050"/><use href="#pCU" fill="#00b050" stroke="#00b050"/><use href="#pTO" fill="#00b050" stroke="#00b050"/><use href="#pCR" fill="#00b050" stroke="#00b050"/><use href="#pMU" fill="#00b050" stroke="#00b050"/><use href="#pH" fill="#00b050" stroke="#00b050"/><use href="#pSE" fill="#00b050" stroke="#00b050"/><use href="#pCA" fill="#00b050" stroke="#00b050"/><use href="#pL" fill="#00b050" stroke="#00b050"/><use href="#pB" fill="#00b050" stroke="#00b050"/><use href="#pTF" fill="#00b050" stroke="#00b050"/><use href="#pGC" fill="#00b050" stroke="#00b050"/><use href="#deco"/><use href="#pADE" fill="#b9df8c" stroke="#fff" stroke-width="0.9"/></g>
<g transform="translate(376.62 -0.49) scale(1.003 1.003)" stroke-width="0.9" stroke-linejoin="round" style="filter:blur(0.35px)"><use href="#base" fill="#b9df8c" stroke="#b9df8c"/><use href="#pHU" fill="#00b050" stroke="#00b050"/><use href="#pL" fill="#00b050" stroke="#00b050"/><use href="#pB" fill="#00b050" stroke="#00b050"/><use href="#pZ" fill="#00b050" stroke="#00b050"/><use href="#pGU" fill="#00b050" stroke="#00b050"/><use href="#pM" fill="#00b050" stroke="#00b050"/><use href="#pTO" fill="#00b050" stroke="#00b050"/><use href="#pCR" fill="#00b050" stroke="#00b050"/><use href="#pCO" fill="#00b050" stroke="#00b050"/><use href="#pSE" fill="#00b050" stroke="#00b050"/><use href="#pH" fill="#00b050" stroke="#00b050"/><use href="#pCA" fill="#00b050" stroke="#00b050"/><use href="#pMU" fill="#00b050" stroke="#00b050"/><use href="#pA" fill="#00b050" stroke="#00b050"/><use href="#pV" fill="#00b050" stroke="#00b050"/><use href="#pIB" fill="#00b050" stroke="#00b050"/><use href="#pTF" fill="#00b050" stroke="#00b050"/><use href="#pGC" fill="#00b050" stroke="#00b050"/><use href="#deco"/><use href="#pADE" fill="#00b050" stroke="#fff" stroke-width="0.9"/></g>
<g transform="translate(-47.45 367.00) scale(1.0206 1.028)" stroke-width="0.9" stroke-linejoin="round" style="filter:blur(0.35px)"><use href="#base" fill="#b9df8c" stroke="#b9df8c"/><use href="#pNA" fill="#00b050" stroke="#00b050"/><use href="#pL" fill="#00b050" stroke="#00b050"/><use href="#pSG" fill="#00b050" stroke="#00b050"/><use href="#pTO" fill="#00b050" stroke="#00b050"/><use href="#pCS" fill="#00b050" stroke="#00b050"/><use href="#pV" fill="#00b050" stroke="#00b050"/><use href="#pMU" fill="#00b050" stroke="#00b050"/><use href="#pAL" fill="#00b050" stroke="#00b050"/><use href="#pH" fill="#00b050" stroke="#00b050"/><use href="#pSE" fill="#00b050" stroke="#00b050"/><use href="#pTF" fill="#b9df8c" stroke="#b9df8c" transform="translate(0 -1.3)"/><use href="#pGC" fill="#b9df8c" stroke="#b9df8c" transform="translate(0 -1.3)"/><use href="#deco"/><use href="#pADE" fill="#00b050" stroke="#fff" stroke-width="0.9"/></g>
<g transform="translate(337.95 367.00) scale(1.0206 1.028)" stroke-width="0.9" stroke-linejoin="round" style="filter:blur(0.35px)"><use href="#base" fill="#b9df8c" stroke="#b9df8c"/><use href="#pNA" fill="#00b050" stroke="#00b050"/><use href="#pL" fill="#00b050" stroke="#00b050"/><use href="#pSG" fill="#00b050" stroke="#00b050"/><use href="#pAV" fill="#00b050" stroke="#00b050"/><use href="#pGU" fill="#00b050" stroke="#00b050"/><use href="#pTO" fill="#00b050" stroke="#00b050"/><use href="#pCR" fill="#00b050" stroke="#00b050"/><use href="#pCS" fill="#00b050" stroke="#00b050"/><use href="#pV" fill="#00b050" stroke="#00b050"/><use href="#pMU" fill="#00b050" stroke="#00b050"/><use href="#pAL" fill="#00b050" stroke="#00b050"/><use href="#pH" fill="#00b050" stroke="#00b050"/><use href="#pSE" fill="#00b050" stroke="#00b050"/><use href="#pTF" fill="#b9df8c" stroke="#b9df8c" transform="translate(0 -1.3)"/><use href="#pGC" fill="#00b050" stroke="#00b050" transform="translate(0 -1.3)"/><use href="#deco"/><use href="#pADE" fill="#00b050" stroke="#fff" stroke-width="0.9"/></g>
<text x="88" y="42" font-size="22" font-weight="normal" fill="#3b45b5" textLength="902.0" lengthAdjust="spacing">Mapa comparativo de la rentabilidad en España por provincias (2011, 2016, 2020 y 2021)</text>
<text x="152.2" y="105" font-size="13" font-weight="normal" fill="#808080" textLength="347.8" lengthAdjust="spacingAndGlyphs" stroke="#808080" stroke-width="0.7" stroke-linejoin="round">Rentabilidad (%) igual o mayor a la media de España</text>
<text x="632" y="105" font-size="13" font-weight="normal" fill="#808080" textLength="313.7" lengthAdjust="spacingAndGlyphs" stroke="#808080" stroke-width="0.7" stroke-linejoin="round">Rentabilidad (%) menor de la media de España</text>
<text x="350.4" y="160.9" font-size="15.8" font-weight="bold" fill="#7f7f7f" textLength="116.2" lengthAdjust="spacingAndGlyphs">2011 (10 AÑOS)</text>
<text x="728.1" y="158.7" font-size="15.8" font-weight="bold" fill="#7f7f7f" textLength="107.5" lengthAdjust="spacingAndGlyphs">2016 (5 AÑOS)</text>
<text x="310" y="532.9" font-size="16.2" font-weight="bold" fill="#7f7f7f" textLength="101.5" lengthAdjust="spacingAndGlyphs">2020 (1 AÑO)</text>
<text x="695.6" y="530.5" font-size="16.2" font-weight="bold" fill="#7f7f7f" textLength="36.3" lengthAdjust="spacingAndGlyphs">2021</text>
<text x="302" y="436.7" font-size="12" font-weight="bold" fill="#8a8a8a" textLength="147.2" lengthAdjust="spacingAndGlyphs" xml:space="preserve">Rentabilidad media  4,3%</text>
<text x="693" y="440" font-size="12" font-weight="bold" fill="#8a8a8a" textLength="147.0" lengthAdjust="spacingAndGlyphs" xml:space="preserve">Rentabilidad media  5,5%</text>
<text x="260.8" y="814.7" font-size="12.2" font-weight="bold" fill="#8a8a8a" textLength="150.0" lengthAdjust="spacingAndGlyphs" xml:space="preserve">Rentabilidad media  6,8%</text>
<text x="659.7" y="817.8" font-size="12.2" font-weight="bold" fill="#8a8a8a" textLength="150.0" lengthAdjust="spacingAndGlyphs" xml:space="preserve">Rentabilidad media  6,5%</text>
</svg>
</body></html>
